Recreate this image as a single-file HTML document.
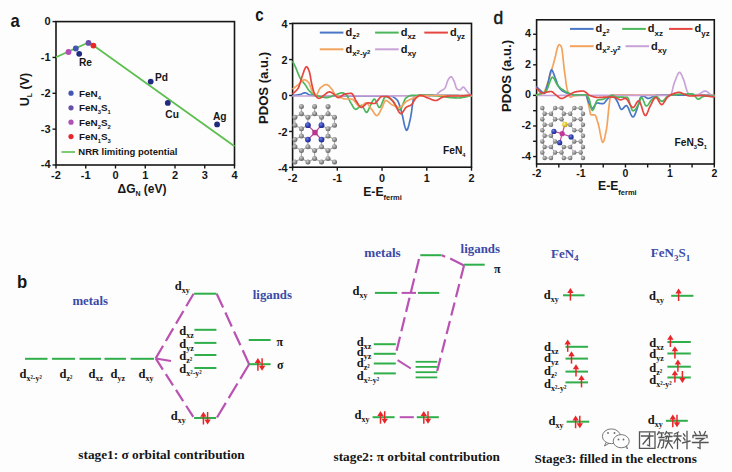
<!DOCTYPE html>
<html><head><meta charset="utf-8"><style>
html,body{margin:0;padding:0;background:#fdfdfd;width:732px;height:472px;overflow:hidden;}
svg{display:block;}
</style></head><body>
<svg width="732" height="472" viewBox="0 0 732 472">
<rect width="732" height="472" fill="#fdfdfd"/>
<rect x="56.0" y="21.6" width="178.5" height="143.4" fill="none" stroke="#161616" stroke-width="1.6"/>
<line x1="52.50" y1="21.60" x2="56.00" y2="21.60" stroke="#161616" stroke-width="1.4" />
<text x="50.50" y="25.00" font-family='"Liberation Sans", sans-serif' font-size="11" font-weight="bold" text-anchor="end" fill="#161616" >0</text>
<line x1="52.50" y1="57.45" x2="56.00" y2="57.45" stroke="#161616" stroke-width="1.4" />
<text x="50.50" y="60.85" font-family='"Liberation Sans", sans-serif' font-size="11" font-weight="bold" text-anchor="end" fill="#161616" >-1</text>
<line x1="52.50" y1="93.30" x2="56.00" y2="93.30" stroke="#161616" stroke-width="1.4" />
<text x="50.50" y="96.70" font-family='"Liberation Sans", sans-serif' font-size="11" font-weight="bold" text-anchor="end" fill="#161616" >-2</text>
<line x1="52.50" y1="129.15" x2="56.00" y2="129.15" stroke="#161616" stroke-width="1.4" />
<text x="50.50" y="132.55" font-family='"Liberation Sans", sans-serif' font-size="11" font-weight="bold" text-anchor="end" fill="#161616" >-3</text>
<line x1="52.50" y1="165.00" x2="56.00" y2="165.00" stroke="#161616" stroke-width="1.4" />
<text x="50.50" y="168.40" font-family='"Liberation Sans", sans-serif' font-size="11" font-weight="bold" text-anchor="end" fill="#161616" >-4</text>
<line x1="56.00" y1="165.00" x2="56.00" y2="168.50" stroke="#161616" stroke-width="1.4" />
<text x="56.00" y="179.00" font-family='"Liberation Sans", sans-serif' font-size="11" font-weight="bold" text-anchor="middle" fill="#161616" >-2</text>
<line x1="85.75" y1="165.00" x2="85.75" y2="168.50" stroke="#161616" stroke-width="1.4" />
<text x="85.75" y="179.00" font-family='"Liberation Sans", sans-serif' font-size="11" font-weight="bold" text-anchor="middle" fill="#161616" >-1</text>
<line x1="115.50" y1="165.00" x2="115.50" y2="168.50" stroke="#161616" stroke-width="1.4" />
<text x="115.50" y="179.00" font-family='"Liberation Sans", sans-serif' font-size="11" font-weight="bold" text-anchor="middle" fill="#161616" >0</text>
<line x1="145.25" y1="165.00" x2="145.25" y2="168.50" stroke="#161616" stroke-width="1.4" />
<text x="145.25" y="179.00" font-family='"Liberation Sans", sans-serif' font-size="11" font-weight="bold" text-anchor="middle" fill="#161616" >1</text>
<line x1="175.00" y1="165.00" x2="175.00" y2="168.50" stroke="#161616" stroke-width="1.4" />
<text x="175.00" y="179.00" font-family='"Liberation Sans", sans-serif' font-size="11" font-weight="bold" text-anchor="middle" fill="#161616" >2</text>
<line x1="204.75" y1="165.00" x2="204.75" y2="168.50" stroke="#161616" stroke-width="1.4" />
<text x="204.75" y="179.00" font-family='"Liberation Sans", sans-serif' font-size="11" font-weight="bold" text-anchor="middle" fill="#161616" >3</text>
<line x1="234.50" y1="165.00" x2="234.50" y2="168.50" stroke="#161616" stroke-width="1.4" />
<text x="234.50" y="179.00" font-family='"Liberation Sans", sans-serif' font-size="11" font-weight="bold" text-anchor="middle" fill="#161616" >4</text>
<text x="117.50" y="192.70" font-family='"Liberation Sans", sans-serif' font-size="12" font-weight="bold" text-anchor="start" fill="#161616" >ΔG<tspan font-size="7" dy="3.5">N</tspan><tspan dy="-3.5" font-size="12"> (eV)</tspan></text>
<g transform="translate(29.3,106.3) rotate(-90)">
<text x="0.00" y="0.00" font-family='"Liberation Sans", sans-serif' font-size="12.5" font-weight="bold" text-anchor="start" fill="#161616" >U<tspan font-size="7" dy="3">L</tspan><tspan dy="-3" font-size="12.5"> (V)</tspan></text>
</g>
<text x="10.50" y="27.20" font-family='"Liberation Sans", sans-serif' font-size="18.5" font-weight="bold" text-anchor="start" fill="#161616" transform="translate(10.5,27.2) scale(0.9,1) translate(-10.5,-27.2)">a</text>
<polyline points="56,57.3 89,42.2 234.5,146.3" fill="none" stroke="#5cbf4f" stroke-width="1.8"/>
<circle cx="68.50" cy="52.00" r="2.9" fill="#b04fb6" />
<circle cx="75.80" cy="48.50" r="2.9" fill="#4456b4" />
<circle cx="79.20" cy="53.80" r="2.9" fill="#1f2a80" />
<circle cx="88.50" cy="42.90" r="2.9" fill="#6650a8" />
<circle cx="93.40" cy="45.60" r="2.9" fill="#e8262b" />
<circle cx="150.70" cy="81.60" r="2.9" fill="#1f2a80" />
<circle cx="167.80" cy="102.90" r="2.9" fill="#1f2a80" />
<circle cx="217.10" cy="124.40" r="2.9" fill="#1f2a80" />
<text x="79.00" y="66.30" font-family='"Liberation Sans", sans-serif' font-size="10.2" font-weight="bold" text-anchor="start" fill="#161616" >Re</text>
<text x="155.00" y="81.30" font-family='"Liberation Sans", sans-serif' font-size="10.2" font-weight="bold" text-anchor="start" fill="#161616" >Pd</text>
<text x="165.30" y="118.40" font-family='"Liberation Sans", sans-serif' font-size="10.2" font-weight="bold" text-anchor="start" fill="#161616" >Cu</text>
<text x="213.00" y="119.60" font-family='"Liberation Sans", sans-serif' font-size="10.2" font-weight="bold" text-anchor="start" fill="#161616" >Ag</text>
<circle cx="71.00" cy="93.20" r="2.6" fill="#4456b4" />
<text x="79.00" y="96.60" font-family='"Liberation Sans", sans-serif' font-size="9.9" font-weight="bold" text-anchor="start" fill="#161616" >FeN<tspan font-size="5.8" dy="3">4</tspan></text>
<circle cx="71.00" cy="107.80" r="2.6" fill="#6650a8" />
<text x="79.00" y="111.20" font-family='"Liberation Sans", sans-serif' font-size="9.9" font-weight="bold" text-anchor="start" fill="#161616" >FeN<tspan font-size="5.8" dy="3">3</tspan><tspan dy="-3">S</tspan><tspan font-size="5.8" dy="3">1</tspan></text>
<circle cx="71.00" cy="122.20" r="2.6" fill="#b04fb6" />
<text x="79.00" y="125.60" font-family='"Liberation Sans", sans-serif' font-size="9.9" font-weight="bold" text-anchor="start" fill="#161616" >FeN<tspan font-size="5.8" dy="3">2</tspan><tspan dy="-3">S</tspan><tspan font-size="5.8" dy="3">2</tspan></text>
<circle cx="71.00" cy="136.60" r="2.6" fill="#e8262b" />
<text x="79.00" y="140.00" font-family='"Liberation Sans", sans-serif' font-size="9.9" font-weight="bold" text-anchor="start" fill="#161616" >FeN<tspan font-size="5.8" dy="3">1</tspan><tspan dy="-3">S</tspan><tspan font-size="5.8" dy="3">3</tspan></text>
<line x1="61.50" y1="152.00" x2="75.00" y2="152.00" stroke="#5cbf4f" stroke-width="1.6" />
<text x="78.30" y="154.90" font-family='"Liberation Sans", sans-serif' font-size="9.5" font-weight="bold" text-anchor="start" fill="#161616" >NRR limiting potential</text>
<rect x="292.6" y="23.4" width="178.89999999999998" height="143.79999999999998" fill="none" stroke="#161616" stroke-width="1.6"/>
<line x1="289.10" y1="23.60" x2="292.60" y2="23.60" stroke="#161616" stroke-width="1.4" />
<text x="287.50" y="28.00" font-family='"Liberation Sans", sans-serif' font-size="10.8" font-weight="bold" text-anchor="end" fill="#161616" >4</text>
<line x1="289.10" y1="59.55" x2="292.60" y2="59.55" stroke="#161616" stroke-width="1.4" />
<text x="287.50" y="63.95" font-family='"Liberation Sans", sans-serif' font-size="10.8" font-weight="bold" text-anchor="end" fill="#161616" >2</text>
<line x1="289.10" y1="95.50" x2="292.60" y2="95.50" stroke="#161616" stroke-width="1.4" />
<text x="287.50" y="99.90" font-family='"Liberation Sans", sans-serif' font-size="10.8" font-weight="bold" text-anchor="end" fill="#161616" >0</text>
<line x1="289.10" y1="131.45" x2="292.60" y2="131.45" stroke="#161616" stroke-width="1.4" />
<text x="287.50" y="135.85" font-family='"Liberation Sans", sans-serif' font-size="10.8" font-weight="bold" text-anchor="end" fill="#161616" >-2</text>
<line x1="289.10" y1="167.40" x2="292.60" y2="167.40" stroke="#161616" stroke-width="1.4" />
<text x="287.50" y="171.80" font-family='"Liberation Sans", sans-serif' font-size="10.8" font-weight="bold" text-anchor="end" fill="#161616" >-4</text>
<line x1="292.60" y1="167.20" x2="292.60" y2="170.70" stroke="#161616" stroke-width="1.4" />
<text x="292.60" y="182.00" font-family='"Liberation Sans", sans-serif' font-size="10.8" font-weight="bold" text-anchor="middle" fill="#161616" >-2</text>
<line x1="337.33" y1="167.20" x2="337.33" y2="170.70" stroke="#161616" stroke-width="1.4" />
<text x="337.33" y="182.00" font-family='"Liberation Sans", sans-serif' font-size="10.8" font-weight="bold" text-anchor="middle" fill="#161616" >-1</text>
<line x1="382.05" y1="167.20" x2="382.05" y2="170.70" stroke="#161616" stroke-width="1.4" />
<text x="382.05" y="182.00" font-family='"Liberation Sans", sans-serif' font-size="10.8" font-weight="bold" text-anchor="middle" fill="#161616" >0</text>
<line x1="426.77" y1="167.20" x2="426.77" y2="170.70" stroke="#161616" stroke-width="1.4" />
<text x="426.77" y="182.00" font-family='"Liberation Sans", sans-serif' font-size="10.8" font-weight="bold" text-anchor="middle" fill="#161616" >1</text>
<line x1="471.50" y1="167.20" x2="471.50" y2="170.70" stroke="#161616" stroke-width="1.4" />
<text x="471.50" y="182.00" font-family='"Liberation Sans", sans-serif' font-size="10.8" font-weight="bold" text-anchor="middle" fill="#161616" >2</text>
<text x="255.20" y="20.90" font-family='"Liberation Sans", sans-serif' font-size="18.5" font-weight="bold" text-anchor="start" fill="#161616" transform="translate(255.2,20.9) scale(0.82,1) translate(-255.2,-20.9)">c</text>
<g transform="translate(268.3,124) rotate(-90)">
<text x="0.00" y="0.00" font-family='"Liberation Sans", sans-serif' font-size="13.1" font-weight="bold" text-anchor="start" fill="#161616" >PDOS (a.u.)</text>
</g>
<text x="363.20" y="195.60" font-family='"Liberation Sans", sans-serif' font-size="12.2" font-weight="bold" text-anchor="start" fill="#161616" >E-E<tspan font-size="7.5" dy="4.5">fermi</tspan></text>
<text x="443.00" y="154.40" font-family='"Liberation Sans", sans-serif' font-size="10.2" font-weight="bold" text-anchor="start" fill="#161616" >FeN<tspan font-size="5.8" dy="3">4</tspan></text>
<line x1="319.80" y1="32.60" x2="343.40" y2="32.60" stroke="#4a76c6" stroke-width="2.0" />
<text x="345.40" y="36.00" font-family='"Liberation Sans", sans-serif' font-size="11" font-weight="bold" text-anchor="start" fill="#161616" >d<tspan font-size="8" dy="3.3">z</tspan><tspan font-size="6" dy="-2.5">2</tspan></text>
<line x1="375.10" y1="32.60" x2="398.70" y2="32.60" stroke="#4cb65a" stroke-width="2.0" />
<text x="400.70" y="36.00" font-family='"Liberation Sans", sans-serif' font-size="11" font-weight="bold" text-anchor="start" fill="#161616" >d<tspan font-size="8" dy="3.3">xz</tspan></text>
<line x1="424.30" y1="32.60" x2="447.90" y2="32.60" stroke="#e5463f" stroke-width="2.0" />
<text x="449.90" y="36.00" font-family='"Liberation Sans", sans-serif' font-size="11" font-weight="bold" text-anchor="start" fill="#161616" >d<tspan font-size="8" dy="3.3">yz</tspan></text>
<line x1="319.80" y1="49.30" x2="343.40" y2="49.30" stroke="#f3a35c" stroke-width="2.0" />
<text x="345.40" y="52.70" font-family='"Liberation Sans", sans-serif' font-size="11" font-weight="bold" text-anchor="start" fill="#161616" >d<tspan font-size="8" dy="3.3">x</tspan><tspan font-size="6" dy="-2.5">2</tspan><tspan font-size="8" dy="2.5">-y</tspan><tspan font-size="6" dy="-2.5">2</tspan></text>
<line x1="375.10" y1="49.30" x2="398.70" y2="49.30" stroke="#c9a3d8" stroke-width="2.0" />
<text x="400.70" y="52.70" font-family='"Liberation Sans", sans-serif' font-size="11" font-weight="bold" text-anchor="start" fill="#161616" >d<tspan font-size="8" dy="3.3">xy</tspan></text>
<path d="M293.0,95.60 L293.5,95.52 L294.0,95.45 L294.5,95.38 L295.0,95.31 L295.5,95.24 L296.0,95.17 L296.5,95.10 L297.0,95.03 L297.5,94.96 L298.0,94.88 L298.5,94.79 L299.0,94.70 L299.5,94.61 L300.0,94.50 L300.5,94.36 L301.0,94.18 L301.5,93.97 L302.0,93.74 L302.5,93.51 L303.0,93.29 L303.5,93.10 L304.0,92.94 L304.5,92.84 L305.0,92.80 L305.5,92.85 L306.0,93.01 L306.5,93.23 L307.0,93.50 L307.5,93.81 L308.0,94.12 L308.5,94.42 L309.0,94.68 L309.5,94.88 L310.0,95.00 L310.5,95.07 L311.0,95.14 L311.5,95.20 L312.0,95.27 L312.5,95.32 L313.0,95.38 L313.5,95.43 L314.0,95.48 L314.5,95.52 L315.0,95.56 L315.5,95.60 L316.0,95.63 L316.5,95.67 L317.0,95.69 L317.5,95.72 L318.0,95.74 L318.5,95.76 L319.0,95.78 L319.5,95.79 L320.0,95.80 L320.5,95.81 L321.0,95.82 L321.5,95.83 L322.0,95.83 L322.5,95.84 L323.0,95.85 L323.5,95.86 L324.0,95.86 L324.5,95.87 L325.0,95.88 L325.5,95.89 L326.0,95.89 L326.5,95.90 L327.0,95.91 L327.5,95.92 L328.0,95.92 L328.5,95.93 L329.0,95.94 L329.5,95.94 L330.0,95.95 L330.5,95.96 L331.0,95.96 L331.5,95.97 L332.0,95.97 L332.5,95.98 L333.0,95.99 L333.5,95.99 L334.0,96.00 L334.5,96.00 L335.0,96.01 L335.5,96.01 L336.0,96.02 L336.5,96.03 L337.0,96.03 L337.5,96.04 L338.0,96.04 L338.5,96.05 L339.0,96.05 L339.5,96.05 L340.0,96.06 L340.5,96.06 L341.0,96.07 L341.5,96.07 L342.0,96.08 L342.5,96.08 L343.0,96.09 L343.5,96.09 L344.0,96.09 L344.5,96.10 L345.0,96.10 L345.5,96.11 L346.0,96.11 L346.5,96.11 L347.0,96.12 L347.5,96.12 L348.0,96.12 L348.5,96.13 L349.0,96.13 L349.5,96.13 L350.0,96.14 L350.5,96.14 L351.0,96.14 L351.5,96.14 L352.0,96.15 L352.5,96.15 L353.0,96.15 L353.5,96.15 L354.0,96.16 L354.5,96.16 L355.0,96.16 L355.5,96.16 L356.0,96.17 L356.5,96.17 L357.0,96.17 L357.5,96.17 L358.0,96.17 L358.5,96.18 L359.0,96.18 L359.5,96.18 L360.0,96.18 L360.5,96.18 L361.0,96.18 L361.5,96.18 L362.0,96.19 L362.5,96.19 L363.0,96.19 L363.5,96.19 L364.0,96.19 L364.5,96.19 L365.0,96.19 L365.5,96.19 L366.0,96.19 L366.5,96.20 L367.0,96.20 L367.5,96.20 L368.0,96.20 L368.5,96.20 L369.0,96.20 L369.5,96.20 L370.0,96.20 L370.5,96.20 L371.0,96.20 L371.5,96.20 L372.0,96.20 L372.5,96.20 L373.0,96.20 L373.5,96.20 L374.0,96.20 L374.5,96.20 L375.0,96.19 L375.5,96.19 L376.0,96.18 L376.5,96.18 L377.0,96.17 L377.5,96.17 L378.0,96.16 L378.5,96.15 L379.0,96.14 L379.5,96.13 L380.0,96.13 L380.5,96.12 L381.0,96.11 L381.5,96.10 L382.0,96.09 L382.5,96.08 L383.0,96.07 L383.5,96.07 L384.0,96.06 L384.5,96.05 L385.0,96.04 L385.5,96.03 L386.0,96.03 L386.5,96.02 L387.0,96.02 L387.5,96.01 L388.0,96.01 L388.5,96.00 L389.0,96.00 L389.5,96.00 L390.0,96.00 L390.5,96.02 L391.0,96.10 L391.5,96.22 L392.1,96.38 L392.6,96.59 L393.1,96.83 L393.6,97.11 L394.1,97.43 L394.6,97.79 L395.1,98.17 L395.7,98.59 L396.2,99.04 L396.7,99.51 L397.2,100.00 L397.7,100.75 L398.3,101.86 L398.8,103.26 L399.4,104.86 L399.9,106.58 L400.5,108.32 L401.0,110.00 L401.5,111.76 L402.0,113.85 L402.6,116.17 L403.1,118.62 L403.6,121.08 L404.1,123.46 L404.6,125.64 L405.1,127.52 L405.7,128.99 L406.2,129.96 L406.7,130.30 L407.2,129.89 L407.8,128.77 L408.3,127.10 L408.9,125.03 L409.4,122.72 L410.0,120.32 L410.5,118.00 L411.0,115.19 L411.6,111.52 L412.1,107.46 L412.7,103.47 L413.2,100.01 L413.8,97.53 L414.3,96.50 L414.8,96.36 L415.3,96.23 L415.8,96.11 L416.3,96.00 L416.8,95.90 L417.4,95.80 L417.9,95.72 L418.4,95.64 L418.9,95.57 L419.4,95.50 L419.9,95.45 L420.4,95.40 L420.9,95.35 L421.4,95.31 L421.9,95.28 L422.5,95.26 L423.0,95.24 L423.5,95.22 L424.0,95.21 L424.5,95.20 L425.0,95.20 L425.5,95.20 L426.0,95.20 L426.5,95.20 L427.0,95.20 L427.5,95.20 L428.0,95.20 L428.5,95.20 L429.0,95.21 L429.5,95.21 L430.0,95.21 L430.5,95.21 L431.0,95.21 L431.5,95.21 L432.0,95.22 L432.5,95.22 L433.0,95.22 L433.5,95.22 L434.0,95.23 L434.5,95.23 L435.0,95.23 L435.5,95.24 L436.0,95.24 L436.5,95.24 L437.0,95.25 L437.5,95.25 L438.0,95.25 L438.5,95.26 L439.0,95.26 L439.5,95.27 L440.0,95.27 L440.5,95.28 L441.0,95.28 L441.5,95.28 L442.0,95.29 L442.5,95.29 L443.0,95.30 L443.5,95.30 L444.0,95.31 L444.5,95.31 L445.0,95.32 L445.5,95.32 L446.0,95.33 L446.5,95.33 L447.0,95.34 L447.5,95.34 L448.0,95.35 L448.5,95.36 L449.0,95.36 L449.5,95.37 L450.0,95.37 L450.5,95.38 L451.0,95.38 L451.5,95.39 L452.0,95.39 L452.5,95.40 L453.0,95.41 L453.5,95.41 L454.0,95.42 L454.5,95.42 L455.0,95.43 L455.5,95.44 L456.0,95.44 L456.5,95.45 L457.0,95.45 L457.5,95.46 L458.0,95.46 L458.5,95.47 L459.0,95.48 L459.5,95.48 L460.0,95.49 L460.5,95.49 L461.0,95.50 L461.5,95.50 L462.0,95.51 L462.5,95.51 L463.0,95.52 L463.5,95.53 L464.0,95.53 L464.5,95.54 L465.0,95.54 L465.5,95.55 L466.0,95.55 L466.5,95.56 L467.0,95.56 L467.5,95.57 L468.0,95.57 L468.5,95.58 L469.0,95.58 L469.5,95.59 L470.0,95.59 L470.5,95.60 L471.0,95.60" fill="none" stroke="#4a76c6" stroke-width="1.7" stroke-linejoin="round" stroke-linecap="round" />
<path d="M293.0,96.00 L293.5,96.00 L294.0,96.00 L294.5,96.00 L295.0,96.00 L295.5,96.00 L296.0,96.00 L296.5,96.00 L297.0,95.99 L297.5,95.99 L298.0,95.99 L298.5,95.99 L299.0,95.99 L299.5,95.99 L300.0,95.99 L300.5,95.99 L301.0,95.99 L301.5,95.99 L302.0,95.99 L302.5,95.99 L303.0,95.99 L303.5,95.99 L304.0,95.99 L304.5,95.99 L305.0,95.98 L305.5,95.98 L306.0,95.98 L306.5,95.98 L307.0,95.98 L307.5,95.98 L308.0,95.98 L308.5,95.98 L309.0,95.98 L309.5,95.98 L310.0,95.98 L310.5,95.98 L311.0,95.98 L311.5,95.98 L312.0,95.98 L312.5,95.98 L313.0,95.98 L313.5,95.98 L314.0,95.98 L314.5,95.98 L315.0,95.98 L315.5,95.98 L316.0,95.97 L316.5,95.97 L317.0,95.97 L317.5,95.97 L318.0,95.97 L318.5,95.97 L319.0,95.97 L319.5,95.97 L320.0,95.97 L320.5,95.97 L321.0,95.97 L321.5,95.97 L322.0,95.97 L322.5,95.97 L323.0,95.97 L323.5,95.97 L324.0,95.97 L324.5,95.97 L325.0,95.97 L325.5,95.97 L326.0,95.97 L326.5,95.97 L327.0,95.97 L327.5,95.97 L328.0,95.97 L328.5,95.97 L329.0,95.97 L329.5,95.97 L330.0,95.96 L330.5,95.96 L331.0,95.96 L331.5,95.96 L332.0,95.96 L332.5,95.96 L333.0,95.96 L333.5,95.96 L334.0,95.96 L334.5,95.96 L335.0,95.96 L335.5,95.96 L336.0,95.96 L336.5,95.96 L337.0,95.96 L337.5,95.96 L338.0,95.96 L338.5,95.96 L339.0,95.96 L339.5,95.96 L340.0,95.96 L340.5,95.96 L341.0,95.96 L341.5,95.96 L342.0,95.96 L342.5,95.96 L343.0,95.96 L343.5,95.96 L344.0,95.96 L344.5,95.96 L345.0,95.96 L345.5,95.96 L346.0,95.96 L346.5,95.95 L347.0,95.95 L347.5,95.95 L348.0,95.95 L348.5,95.95 L349.0,95.95 L349.5,95.95 L350.0,95.95 L350.5,95.95 L351.0,95.95 L351.5,95.95 L352.0,95.95 L352.5,95.95 L353.0,95.95 L353.5,95.95 L354.0,95.95 L354.5,95.95 L355.0,95.95 L355.5,95.95 L356.0,95.95 L356.5,95.95 L357.0,95.95 L357.5,95.95 L358.0,95.95 L358.5,95.95 L359.0,95.95 L359.5,95.95 L360.0,95.95 L360.5,95.95 L361.0,95.94 L361.5,95.94 L362.0,95.94 L362.5,95.94 L363.0,95.94 L363.5,95.94 L364.0,95.94 L364.5,95.94 L365.0,95.94 L365.5,95.94 L366.0,95.94 L366.5,95.94 L367.0,95.94 L367.5,95.94 L368.0,95.94 L368.5,95.94 L369.0,95.94 L369.5,95.94 L370.0,95.94 L370.5,95.94 L371.0,95.94 L371.5,95.94 L372.0,95.93 L372.5,95.93 L373.0,95.93 L373.5,95.93 L374.0,95.93 L374.5,95.93 L375.0,95.93 L375.5,95.93 L376.0,95.93 L376.5,95.93 L377.0,95.93 L377.5,95.93 L378.0,95.93 L378.5,95.93 L379.0,95.93 L379.5,95.93 L380.0,95.93 L380.5,95.92 L381.0,95.92 L381.5,95.92 L382.0,95.92 L382.5,95.92 L383.0,95.92 L383.5,95.92 L384.0,95.92 L384.5,95.92 L385.0,95.92 L385.5,95.92 L386.0,95.92 L386.5,95.92 L387.0,95.92 L387.5,95.91 L388.0,95.91 L388.5,95.91 L389.0,95.91 L389.5,95.91 L390.0,95.91 L390.5,95.91 L391.0,95.91 L391.5,95.91 L392.0,95.91 L392.5,95.91 L393.0,95.91 L393.5,95.90 L394.0,95.90 L394.5,95.90 L395.0,95.90 L395.5,95.90 L396.0,95.90 L396.5,95.90 L397.0,95.90 L397.5,95.90 L398.0,95.90 L398.5,95.89 L399.0,95.89 L399.5,95.89 L400.0,95.89 L400.5,95.89 L401.0,95.89 L401.5,95.89 L402.0,95.89 L402.5,95.89 L403.0,95.88 L403.5,95.88 L404.0,95.88 L404.5,95.88 L405.0,95.88 L405.5,95.88 L406.0,95.88 L406.5,95.88 L407.0,95.87 L407.5,95.87 L408.0,95.87 L408.5,95.87 L409.0,95.87 L409.5,95.87 L410.0,95.87 L410.5,95.87 L411.0,95.86 L411.5,95.86 L412.0,95.86 L412.5,95.86 L413.0,95.86 L413.5,95.86 L414.0,95.86 L414.5,95.85 L415.0,95.85 L415.5,95.85 L416.0,95.85 L416.5,95.85 L417.0,95.85 L417.5,95.85 L418.0,95.84 L418.5,95.84 L419.0,95.84 L419.5,95.84 L420.0,95.84 L420.5,95.84 L421.0,95.83 L421.5,95.83 L422.0,95.83 L422.5,95.83 L423.0,95.83 L423.5,95.82 L424.0,95.82 L424.5,95.82 L425.0,95.82 L425.5,95.82 L426.0,95.82 L426.5,95.81 L427.0,95.81 L427.5,95.81 L428.0,95.81 L428.5,95.81 L429.0,95.80 L429.5,95.80 L430.0,95.80 L430.5,95.79 L431.1,95.78 L431.6,95.76 L432.1,95.73 L432.7,95.70 L433.2,95.66 L433.7,95.61 L434.3,95.56 L434.8,95.50 L435.3,95.37 L435.8,95.13 L436.4,94.79 L436.9,94.37 L437.4,93.90 L437.9,93.40 L438.4,92.89 L439.0,92.38 L439.5,91.92 L440.0,91.50 L440.5,91.16 L441.0,90.85 L441.5,90.57 L442.0,90.30 L442.5,90.02 L443.0,89.72 L443.5,89.38 L444.0,88.99 L444.5,88.54 L445.0,88.00 L445.5,87.11 L446.0,85.75 L446.5,84.15 L447.0,82.51 L447.5,81.05 L448.0,80.00 L448.5,79.21 L449.0,78.45 L449.5,77.77 L450.0,77.21 L450.5,76.84 L451.0,76.70 L451.5,76.89 L452.0,77.40 L452.5,78.15 L453.0,79.06 L453.5,80.03 L454.0,81.00 L454.5,82.20 L455.0,83.77 L455.5,85.48 L456.0,87.08 L456.5,88.33 L457.0,89.00 L457.5,89.28 L458.0,89.52 L458.5,89.72 L459.0,89.87 L459.5,89.97 L460.0,90.00 L460.6,89.78 L461.1,89.22 L461.6,88.50 L462.2,87.78 L462.8,87.22 L463.3,87.00 L463.8,87.21 L464.4,87.76 L464.9,88.50 L465.5,89.29 L466.0,90.00 L466.5,90.58 L467.0,91.17 L467.5,91.76 L468.0,92.36 L468.5,92.97 L469.0,93.58 L469.5,94.18 L470.0,94.79 L470.5,95.40 L471.0,96.00" fill="none" stroke="#c9a3d8" stroke-width="1.7" stroke-linejoin="round" stroke-linecap="round" />
<path d="M293.0,61.90 L293.5,63.04 L294.1,64.18 L294.6,65.32 L295.1,66.46 L295.7,67.62 L296.2,68.80 L296.7,70.00 L297.2,71.27 L297.7,72.58 L298.2,73.89 L298.8,75.16 L299.3,76.36 L299.8,77.45 L300.3,78.40 L300.8,79.25 L301.4,80.01 L301.9,80.71 L302.4,81.36 L303.0,81.99 L303.5,82.61 L304.0,83.24 L304.6,83.89 L305.1,84.60 L305.6,85.36 L306.2,86.17 L306.7,87.00 L307.2,87.85 L307.7,88.67 L308.2,89.45 L308.8,90.17 L309.3,90.80 L309.8,91.37 L310.3,91.94 L310.9,92.48 L311.4,93.00 L311.9,93.48 L312.4,93.92 L313.0,94.31 L313.5,94.64 L314.0,94.90 L314.5,95.12 L315.1,95.32 L315.6,95.50 L316.2,95.66 L316.7,95.80 L317.3,95.94 L317.8,96.06 L318.4,96.18 L318.9,96.30 L319.4,96.41 L319.9,96.53 L320.4,96.65 L320.9,96.77 L321.4,96.88 L321.9,97.00 L322.4,97.10 L323.0,97.21 L323.5,97.30 L324.0,97.39 L324.5,97.46 L325.0,97.52 L325.5,97.56 L326.0,97.59 L326.5,97.60 L327.0,97.58 L327.5,97.53 L328.1,97.45 L328.6,97.34 L329.1,97.20 L329.6,97.05 L330.2,96.87 L330.7,96.69 L331.2,96.49 L331.7,96.28 L332.3,96.07 L332.8,95.86 L333.3,95.65 L333.8,95.45 L334.4,95.25 L334.9,95.07 L335.4,94.90 L335.9,94.73 L336.5,94.54 L337.0,94.33 L337.5,94.12 L338.1,93.90 L338.6,93.69 L339.1,93.49 L339.6,93.30 L340.2,93.14 L340.7,93.00 L341.2,92.89 L341.8,92.82 L342.3,92.80 L342.8,92.85 L343.3,92.97 L343.8,93.17 L344.4,93.44 L344.9,93.75 L345.4,94.11 L345.9,94.49 L346.4,94.90 L346.9,95.48 L347.5,96.33 L348.0,97.35 L348.5,98.47 L349.0,99.60 L349.6,100.67 L350.1,101.60 L350.6,102.45 L351.1,103.36 L351.7,104.29 L352.2,105.23 L352.7,106.13 L353.2,106.98 L353.7,107.74 L354.2,108.38 L354.8,108.87 L355.3,109.19 L355.8,109.30 L356.3,109.21 L356.8,108.96 L357.4,108.59 L357.9,108.13 L358.4,107.62 L358.9,107.08 L359.4,106.57 L359.9,106.11 L360.5,105.74 L361.0,105.49 L361.5,105.40 L362.0,105.60 L362.5,106.13 L363.0,106.91 L363.5,107.86 L364.1,108.90 L364.6,109.94 L365.1,110.89 L365.6,111.67 L366.1,112.20 L366.6,112.40 L367.1,112.13 L367.7,111.39 L368.2,110.33 L368.8,109.07 L369.3,107.74 L369.9,106.47 L370.4,105.40 L371.0,104.35 L371.5,103.17 L372.1,101.98 L372.6,100.87 L373.2,99.96 L373.7,99.33 L374.3,99.10 L374.8,99.33 L375.3,99.96 L375.8,100.89 L376.3,102.02 L376.9,103.25 L377.4,104.48 L377.9,105.61 L378.4,106.54 L378.9,107.17 L379.4,107.40 L379.9,107.19 L380.4,106.59 L381.0,105.70 L381.5,104.57 L382.0,103.30 L382.5,101.95 L383.1,100.60 L383.6,99.33 L384.1,98.20 L384.6,97.31 L385.2,96.71 L385.7,96.50 L386.2,96.54 L386.8,96.67 L387.3,96.87 L387.8,97.13 L388.4,97.44 L388.9,97.80 L389.4,98.20 L390.0,98.62 L390.5,99.06 L391.0,99.51 L391.6,99.96 L392.1,100.40 L392.6,100.88 L393.1,101.48 L393.6,102.18 L394.1,102.95 L394.6,103.78 L395.1,104.63 L395.6,105.49 L396.2,106.34 L396.7,107.15 L397.2,107.89 L397.7,108.56 L398.2,109.11 L398.7,109.53 L399.2,109.80 L399.7,109.90 L400.2,109.69 L400.8,109.10 L401.3,108.21 L401.8,107.07 L402.4,105.77 L402.9,104.37 L403.4,102.95 L404.0,101.56 L404.5,100.28 L405.0,99.18 L405.6,98.33 L406.1,97.80 L406.6,97.46 L407.2,97.14 L407.7,96.83 L408.2,96.55 L408.7,96.29 L409.2,96.05 L409.8,95.84 L410.3,95.66 L410.8,95.51 L411.3,95.40 L411.9,95.33 L412.4,95.30 L412.9,95.29 L413.4,95.28 L413.9,95.28 L414.4,95.27 L414.9,95.26 L415.4,95.26 L415.9,95.25 L416.4,95.24 L416.9,95.24 L417.4,95.23 L417.9,95.23 L418.4,95.22 L419.0,95.22 L419.5,95.22 L420.0,95.21 L420.5,95.21 L421.0,95.21 L421.5,95.21 L422.0,95.20 L422.5,95.20 L423.0,95.20 L423.5,95.20 L424.0,95.20 L424.5,95.20 L425.0,95.20 L425.5,95.20 L426.0,95.21 L426.5,95.22 L427.0,95.23 L427.5,95.24 L428.0,95.26 L428.5,95.28 L429.0,95.30 L429.5,95.33 L430.0,95.36 L430.5,95.39 L431.0,95.42 L431.5,95.46 L432.0,95.49 L432.5,95.53 L433.0,95.57 L433.5,95.61 L434.0,95.65 L434.5,95.70 L435.0,95.74 L435.5,95.79 L436.0,95.83 L436.5,95.88 L437.0,95.92 L437.5,95.97 L438.0,96.02 L438.5,96.06 L439.0,96.11 L439.5,96.15 L440.0,96.20 L440.5,96.25 L441.0,96.30 L441.5,96.36 L442.0,96.42 L442.5,96.49 L443.0,96.56 L443.5,96.63 L444.0,96.71 L444.5,96.78 L445.0,96.86 L445.5,96.93 L446.0,97.01 L446.5,97.08 L447.0,97.15 L447.5,97.22 L448.0,97.29 L448.5,97.35 L449.0,97.40 L449.5,97.46 L450.0,97.50 L450.5,97.54 L451.0,97.59 L451.5,97.63 L452.0,97.67 L452.5,97.71 L453.0,97.76 L453.5,97.80 L454.0,97.83 L454.5,97.87 L455.0,97.90 L455.5,97.93 L456.0,97.95 L456.5,97.97 L457.0,97.99 L457.5,98.00 L458.0,98.00 L458.5,97.99 L459.0,97.97 L459.5,97.93 L460.0,97.88 L460.5,97.81 L461.0,97.74 L461.5,97.66 L462.0,97.57 L462.5,97.48 L463.0,97.39 L463.5,97.29 L464.0,97.19 L464.5,97.09 L465.0,97.00 L465.5,96.90 L466.0,96.80 L466.5,96.68 L467.0,96.56 L467.5,96.43 L468.0,96.30 L468.5,96.17 L469.0,96.03 L469.5,95.89 L470.0,95.76 L470.5,95.63 L471.0,95.50" fill="none" stroke="#4cb65a" stroke-width="1.7" stroke-linejoin="round" stroke-linecap="round" />
<path d="M293.0,88.70 L293.5,88.29 L294.1,87.88 L294.6,87.47 L295.1,87.06 L295.6,86.65 L296.2,86.24 L296.7,85.84 L297.2,85.42 L297.8,85.01 L298.3,84.60 L298.8,84.17 L299.3,83.69 L299.8,83.18 L300.3,82.65 L300.8,82.12 L301.4,81.61 L301.9,81.12 L302.4,80.69 L302.9,80.33 L303.4,80.05 L303.9,79.86 L304.4,79.80 L304.9,79.86 L305.4,80.02 L306.0,80.28 L306.5,80.62 L307.0,81.02 L307.6,81.48 L308.1,81.98 L308.6,82.50 L309.1,83.24 L309.6,84.35 L310.1,85.71 L310.6,87.20 L311.2,88.71 L311.7,90.10 L312.2,91.27 L312.7,92.10 L313.3,92.78 L313.8,93.43 L314.4,94.01 L315.0,94.48 L315.5,94.79 L316.1,94.90 L316.6,94.65 L317.2,93.99 L317.7,93.03 L318.2,91.90 L318.7,90.71 L319.2,89.58 L319.8,88.64 L320.3,88.00 L320.8,87.56 L321.3,87.14 L321.9,86.73 L322.4,86.34 L322.9,85.97 L323.4,85.64 L323.9,85.35 L324.4,85.09 L324.9,84.88 L325.5,84.73 L326.0,84.63 L326.5,84.60 L327.0,84.66 L327.5,84.85 L328.0,85.13 L328.5,85.51 L329.0,85.95 L329.5,86.46 L330.0,87.02 L330.5,87.60 L331.0,88.20 L331.5,88.81 L332.0,89.40 L332.6,90.20 L333.1,91.21 L333.7,92.31 L334.3,93.37 L334.8,94.27 L335.4,94.90 L335.9,95.27 L336.4,95.60 L336.9,95.90 L337.4,96.16 L337.9,96.40 L338.4,96.62 L338.9,96.83 L339.4,97.02 L339.9,97.21 L340.4,97.40 L340.9,97.60 L341.4,97.82 L341.9,98.05 L342.4,98.28 L342.9,98.50 L343.5,98.70 L344.0,98.86 L344.5,98.96 L345.0,99.00 L345.5,99.00 L346.1,99.00 L346.6,99.00 L347.1,99.00 L347.7,99.00 L348.2,99.00 L348.7,99.00 L349.3,99.00 L349.8,99.00 L350.3,99.00 L350.9,99.00 L351.4,99.00 L351.9,99.08 L352.4,99.29 L353.0,99.63 L353.5,100.08 L354.0,100.61 L354.5,101.20 L355.1,101.84 L355.6,102.51 L356.1,103.19 L356.6,103.86 L357.2,104.50 L357.7,105.09 L358.2,105.62 L358.7,106.07 L359.3,106.41 L359.8,106.62 L360.3,106.70 L360.8,106.61 L361.3,106.37 L361.9,106.01 L362.4,105.56 L362.9,105.06 L363.4,104.54 L363.9,104.04 L364.4,103.59 L365.0,103.23 L365.5,102.99 L366.0,102.90 L366.5,103.00 L367.0,103.28 L367.6,103.71 L368.1,104.26 L368.6,104.91 L369.1,105.63 L369.6,106.39 L370.1,107.16 L370.7,107.93 L371.2,108.65 L371.7,109.30 L372.2,109.96 L372.7,110.72 L373.2,111.54 L373.7,112.38 L374.2,113.20 L374.8,113.96 L375.3,114.62 L375.8,115.14 L376.3,115.48 L376.8,115.60 L377.3,115.47 L377.8,115.09 L378.3,114.51 L378.8,113.77 L379.4,112.90 L379.9,111.94 L380.4,110.93 L380.9,109.91 L381.4,108.92 L381.9,108.00 L382.4,106.89 L383.0,105.54 L383.5,104.09 L384.1,102.71 L384.6,101.53 L385.2,100.71 L385.7,100.40 L386.2,100.47 L386.8,100.66 L387.3,100.95 L387.8,101.32 L388.4,101.76 L388.9,102.23 L389.4,102.73 L390.0,103.22 L390.5,103.70 L391.0,104.13 L391.6,104.51 L392.1,104.80 L392.6,105.04 L393.1,105.28 L393.6,105.52 L394.1,105.76 L394.6,105.99 L395.1,106.22 L395.6,106.44 L396.2,106.64 L396.7,106.82 L397.2,106.99 L397.7,107.13 L398.2,107.24 L398.7,107.33 L399.2,107.38 L399.7,107.40 L400.2,107.31 L400.8,107.06 L401.3,106.68 L401.8,106.19 L402.4,105.63 L402.9,105.00 L403.4,104.35 L404.0,103.70 L404.5,103.07 L405.0,102.50 L405.6,102.00 L406.1,101.60 L406.6,101.29 L407.1,101.00 L407.6,100.73 L408.1,100.48 L408.6,100.24 L409.2,100.00 L409.7,99.77 L410.2,99.55 L410.7,99.33 L411.2,99.10 L411.7,98.86 L412.2,98.61 L412.8,98.36 L413.3,98.10 L413.8,97.85 L414.4,97.61 L414.9,97.37 L415.4,97.16 L415.9,96.95 L416.4,96.78 L417.0,96.62 L417.5,96.50 L418.0,96.40 L418.5,96.30 L419.0,96.20 L419.5,96.10 L420.0,96.01 L420.5,95.93 L421.0,95.85 L421.5,95.77 L422.0,95.70 L422.5,95.65 L423.0,95.60 L423.5,95.55 L424.0,95.52 L424.5,95.51 L425.0,95.50 L425.5,95.50 L426.0,95.50 L426.5,95.50 L427.0,95.50 L427.5,95.50 L428.0,95.50 L428.5,95.50 L429.0,95.50 L429.5,95.50 L430.0,95.50 L430.5,95.50 L431.0,95.50 L431.5,95.50 L432.0,95.50 L432.5,95.50 L433.0,95.50 L433.5,95.50 L434.0,95.50 L434.5,95.50 L435.0,95.50 L435.5,95.50 L436.0,95.50 L436.5,95.50 L437.0,95.50 L437.5,95.50 L438.0,95.50 L438.5,95.50 L439.0,95.50 L439.5,95.50 L440.0,95.50 L440.5,95.50 L441.0,95.50 L441.5,95.50 L442.0,95.50 L442.5,95.50 L443.0,95.50 L443.5,95.50 L444.0,95.50 L444.5,95.50 L445.0,95.50 L445.5,95.50 L446.0,95.50 L446.5,95.50 L447.0,95.50 L447.5,95.50 L448.0,95.50 L448.5,95.50 L449.0,95.50 L449.5,95.50 L450.0,95.50 L450.5,95.50 L451.0,95.50 L451.5,95.50 L452.0,95.50 L452.5,95.50 L453.0,95.50 L453.5,95.50 L454.0,95.50 L454.5,95.50 L455.0,95.50 L455.5,95.50 L456.0,95.50 L456.5,95.50 L457.0,95.50 L457.5,95.50 L458.0,95.50 L458.5,95.50 L459.0,95.50 L459.5,95.50 L460.0,95.50 L460.5,95.50 L461.0,95.50 L461.5,95.50 L462.0,95.50 L462.5,95.50 L463.0,95.50 L463.5,95.50 L464.0,95.50 L464.5,95.50 L465.0,95.50 L465.5,95.50 L466.0,95.50 L466.5,95.50 L467.0,95.50 L467.5,95.50 L468.0,95.50 L468.5,95.50 L469.0,95.50 L469.5,95.50 L470.0,95.50 L470.5,95.50 L471.0,95.50" fill="none" stroke="#f3a35c" stroke-width="1.7" stroke-linejoin="round" stroke-linecap="round" />
<path d="M293.0,93.50 L293.5,92.98 L294.1,92.49 L294.6,92.03 L295.1,91.57 L295.6,91.11 L296.2,90.61 L296.7,90.07 L297.2,89.47 L297.8,88.78 L298.3,88.00 L298.8,86.99 L299.3,85.64 L299.8,84.04 L300.4,82.29 L300.9,80.47 L301.4,78.69 L301.9,77.04 L302.4,75.60 L302.9,74.23 L303.4,72.75 L303.9,71.27 L304.4,69.85 L305.0,68.61 L305.5,67.60 L306.0,66.94 L306.5,66.70 L307.1,66.97 L307.6,67.70 L308.2,68.77 L308.7,70.08 L309.3,71.50 L309.8,73.49 L310.4,76.36 L310.9,79.62 L311.5,82.76 L312.0,85.30 L312.6,87.48 L313.1,89.59 L313.7,91.56 L314.3,93.28 L314.8,94.65 L315.4,95.60 L315.9,96.20 L316.4,96.76 L316.9,97.27 L317.4,97.69 L317.9,98.02 L318.4,98.23 L318.9,98.30 L319.4,98.25 L319.9,98.10 L320.4,97.86 L320.9,97.57 L321.4,97.22 L321.9,96.83 L322.4,96.43 L322.9,96.01 L323.4,95.61 L323.9,95.24 L324.4,94.90 L324.9,94.54 L325.5,94.12 L326.0,93.68 L326.5,93.24 L327.1,92.82 L327.6,92.46 L328.1,92.16 L328.7,91.97 L329.2,91.90 L329.7,91.95 L330.3,92.08 L330.8,92.28 L331.3,92.54 L331.9,92.84 L332.4,93.17 L332.9,93.52 L333.5,93.86 L334.0,94.20 L334.5,94.59 L335.0,95.08 L335.5,95.64 L336.1,96.21 L336.6,96.74 L337.1,97.19 L337.6,97.49 L338.1,97.60 L338.6,97.55 L339.2,97.39 L339.7,97.16 L340.2,96.86 L340.8,96.51 L341.3,96.13 L341.8,95.74 L342.3,95.35 L342.9,94.97 L343.4,94.64 L343.9,94.35 L344.5,94.13 L345.0,94.00 L345.5,93.92 L346.1,93.84 L346.6,93.76 L347.1,93.70 L347.7,93.63 L348.2,93.57 L348.7,93.52 L349.3,93.48 L349.8,93.45 L350.3,93.42 L350.9,93.41 L351.4,93.40 L351.9,93.57 L352.4,94.03 L352.9,94.74 L353.4,95.63 L353.9,96.64 L354.5,97.72 L355.0,98.82 L355.5,99.87 L356.0,100.81 L356.5,101.60 L357.0,102.31 L357.5,103.07 L358.0,103.84 L358.5,104.61 L359.0,105.34 L359.5,106.00 L360.0,106.57 L360.5,107.01 L361.0,107.30 L361.5,107.40 L362.0,107.31 L362.6,107.07 L363.1,106.70 L363.6,106.23 L364.2,105.71 L364.7,105.15 L365.2,104.59 L365.8,104.07 L366.3,103.60 L366.8,103.23 L367.4,102.99 L367.9,102.90 L368.4,102.91 L369.0,102.94 L369.5,102.99 L370.0,103.06 L370.6,103.13 L371.1,103.20 L371.6,103.27 L372.2,103.34 L372.7,103.41 L373.2,103.46 L373.8,103.49 L374.3,103.50 L374.8,103.41 L375.3,103.16 L375.8,102.77 L376.3,102.27 L376.8,101.69 L377.3,101.04 L377.8,100.35 L378.4,99.65 L378.9,98.96 L379.4,98.31 L379.9,97.73 L380.4,97.23 L380.9,96.84 L381.4,96.59 L381.9,96.50 L382.4,96.50 L382.9,96.50 L383.4,96.50 L383.9,96.50 L384.4,96.50 L385.0,96.50 L385.5,96.50 L386.0,96.50 L386.5,96.50 L387.0,96.50 L387.5,96.56 L388.1,96.72 L388.6,96.98 L389.1,97.33 L389.6,97.74 L390.1,98.22 L390.7,98.74 L391.2,99.29 L391.7,99.87 L392.2,100.45 L392.8,101.03 L393.3,101.60 L393.8,102.23 L394.3,103.00 L394.8,103.90 L395.4,104.89 L395.9,105.94 L396.4,107.03 L396.9,108.13 L397.4,109.20 L397.9,110.22 L398.4,111.17 L398.9,112.00 L399.5,112.70 L400.0,113.24 L400.5,113.58 L401.0,113.70 L401.5,113.56 L402.0,113.16 L402.5,112.57 L403.0,111.84 L403.6,111.01 L404.1,110.15 L404.6,109.30 L405.1,108.53 L405.6,107.87 L406.1,107.40 L406.6,107.06 L407.1,106.78 L407.6,106.54 L408.1,106.32 L408.6,106.12 L409.2,105.91 L409.7,105.69 L410.2,105.44 L410.7,105.15 L411.2,104.80 L411.7,104.34 L412.2,103.73 L412.7,103.02 L413.2,102.22 L413.7,101.38 L414.2,100.54 L414.7,99.72 L415.2,98.97 L415.7,98.32 L416.2,97.80 L416.7,97.31 L417.3,96.82 L417.8,96.35 L418.4,95.93 L418.9,95.60 L419.5,95.38 L420.0,95.30 L420.5,95.32 L421.0,95.38 L421.5,95.47 L422.0,95.60 L422.5,95.75 L423.0,95.92 L423.5,96.11 L424.0,96.32 L424.5,96.54 L425.0,96.76 L425.5,96.98 L426.0,97.21 L426.5,97.42 L427.0,97.63 L427.5,97.82 L428.0,98.00 L428.5,98.18 L429.0,98.38 L429.5,98.59 L430.1,98.80 L430.6,99.03 L431.1,99.25 L431.6,99.46 L432.1,99.67 L432.6,99.86 L433.1,100.04 L433.6,100.19 L434.2,100.32 L434.7,100.42 L435.2,100.48 L435.7,100.50 L436.2,100.46 L436.7,100.33 L437.3,100.14 L437.8,99.90 L438.3,99.61 L438.8,99.29 L439.4,98.95 L439.9,98.60 L440.4,98.26 L440.9,97.93 L441.4,97.63 L442.0,97.36 L442.5,97.15 L443.0,97.00 L443.5,96.89 L444.0,96.78 L444.5,96.68 L445.0,96.58 L445.5,96.48 L446.0,96.39 L446.5,96.31 L447.0,96.23 L447.5,96.17 L448.0,96.11 L448.5,96.06 L449.0,96.03 L449.5,96.01 L450.0,96.00 L450.5,96.00 L451.0,96.00 L451.5,96.00 L452.0,96.00 L452.5,96.00 L453.0,96.00 L453.5,96.00 L454.0,96.00 L454.5,96.00 L455.0,96.00 L455.5,96.00 L456.0,96.00 L456.5,96.00 L457.0,96.00 L457.5,96.00 L458.0,96.00 L458.5,96.00 L459.0,96.00 L459.5,96.00 L460.0,96.00 L460.5,96.00 L461.0,95.98 L461.5,95.97 L462.0,95.94 L462.5,95.91 L463.0,95.87 L463.5,95.83 L464.0,95.78 L464.5,95.73 L465.0,95.68 L465.5,95.62 L466.0,95.57 L466.5,95.51 L467.0,95.45 L467.5,95.39 L468.0,95.33 L468.5,95.27 L469.0,95.21 L469.5,95.15 L470.0,95.10 L470.5,95.05 L471.0,95.00" fill="none" stroke="#e5463f" stroke-width="1.7" stroke-linejoin="round" stroke-linecap="round" />
<rect x="536.6" y="19.8" width="177.69999999999993" height="144.2" fill="none" stroke="#161616" stroke-width="1.6"/>
<line x1="533.10" y1="156.56" x2="536.60" y2="156.56" stroke="#161616" stroke-width="1.4" />
<text x="531.00" y="159.56" font-family='"Liberation Sans", sans-serif' font-size="10.8" font-weight="bold" text-anchor="end" fill="#161616" >-4</text>
<line x1="533.10" y1="141.27" x2="536.60" y2="141.27" stroke="#161616" stroke-width="1.4" />
<line x1="533.10" y1="125.98" x2="536.60" y2="125.98" stroke="#161616" stroke-width="1.4" />
<text x="531.00" y="128.98" font-family='"Liberation Sans", sans-serif' font-size="10.8" font-weight="bold" text-anchor="end" fill="#161616" >-2</text>
<line x1="533.10" y1="110.69" x2="536.60" y2="110.69" stroke="#161616" stroke-width="1.4" />
<line x1="533.10" y1="95.40" x2="536.60" y2="95.40" stroke="#161616" stroke-width="1.4" />
<text x="531.00" y="98.40" font-family='"Liberation Sans", sans-serif' font-size="10.8" font-weight="bold" text-anchor="end" fill="#161616" >0</text>
<line x1="533.10" y1="80.11" x2="536.60" y2="80.11" stroke="#161616" stroke-width="1.4" />
<line x1="533.10" y1="64.82" x2="536.60" y2="64.82" stroke="#161616" stroke-width="1.4" />
<text x="531.00" y="67.82" font-family='"Liberation Sans", sans-serif' font-size="10.8" font-weight="bold" text-anchor="end" fill="#161616" >2</text>
<line x1="533.10" y1="49.53" x2="536.60" y2="49.53" stroke="#161616" stroke-width="1.4" />
<line x1="533.10" y1="34.24" x2="536.60" y2="34.24" stroke="#161616" stroke-width="1.4" />
<text x="531.00" y="37.24" font-family='"Liberation Sans", sans-serif' font-size="10.8" font-weight="bold" text-anchor="end" fill="#161616" >4</text>
<line x1="536.60" y1="164.00" x2="536.60" y2="167.50" stroke="#161616" stroke-width="1.4" />
<text x="536.60" y="176.80" font-family='"Liberation Sans", sans-serif' font-size="10.5" font-weight="bold" text-anchor="middle" fill="#161616" >-2</text>
<line x1="558.81" y1="164.00" x2="558.81" y2="167.50" stroke="#161616" stroke-width="1.4" />
<line x1="581.02" y1="164.00" x2="581.02" y2="167.50" stroke="#161616" stroke-width="1.4" />
<text x="581.02" y="176.80" font-family='"Liberation Sans", sans-serif' font-size="10.5" font-weight="bold" text-anchor="middle" fill="#161616" >-1</text>
<line x1="603.24" y1="164.00" x2="603.24" y2="167.50" stroke="#161616" stroke-width="1.4" />
<line x1="625.45" y1="164.00" x2="625.45" y2="167.50" stroke="#161616" stroke-width="1.4" />
<text x="625.45" y="176.80" font-family='"Liberation Sans", sans-serif' font-size="10.5" font-weight="bold" text-anchor="middle" fill="#161616" >0</text>
<line x1="647.66" y1="164.00" x2="647.66" y2="167.50" stroke="#161616" stroke-width="1.4" />
<line x1="669.88" y1="164.00" x2="669.88" y2="167.50" stroke="#161616" stroke-width="1.4" />
<text x="669.88" y="176.80" font-family='"Liberation Sans", sans-serif' font-size="10.5" font-weight="bold" text-anchor="middle" fill="#161616" >1</text>
<line x1="692.09" y1="164.00" x2="692.09" y2="167.50" stroke="#161616" stroke-width="1.4" />
<line x1="714.30" y1="164.00" x2="714.30" y2="167.50" stroke="#161616" stroke-width="1.4" />
<text x="714.30" y="176.80" font-family='"Liberation Sans", sans-serif' font-size="10.5" font-weight="bold" text-anchor="middle" fill="#161616" >2</text>
<text x="493.50" y="23.60" font-family='"Liberation Sans", sans-serif' font-size="19" font-weight="normal" text-anchor="start" fill="#161616" transform="translate(493.5,23.6) scale(0.92,1) translate(-493.5,-23.6)" stroke="#161616" stroke-width="0.5">d</text>
<g transform="translate(510.5,112) rotate(-90)">
<text x="0.00" y="0.00" font-family='"Liberation Sans", sans-serif' font-size="13.1" font-weight="bold" text-anchor="start" fill="#161616" >PDOS (a.u.)</text>
</g>
<text x="598.00" y="190.00" font-family='"Liberation Sans", sans-serif' font-size="12.2" font-weight="bold" text-anchor="start" fill="#161616" >E-E<tspan font-size="7.5" dy="4.5">fermi</tspan></text>
<text x="674.50" y="146.20" font-family='"Liberation Sans", sans-serif' font-size="10.2" font-weight="bold" text-anchor="start" fill="#161616" >FeN<tspan font-size="5.8" dy="3">3</tspan><tspan dy="-3">S</tspan><tspan font-size="5.8" dy="3">1</tspan></text>
<line x1="570.00" y1="28.90" x2="593.60" y2="28.90" stroke="#4a76c6" stroke-width="2.0" />
<text x="595.60" y="32.30" font-family='"Liberation Sans", sans-serif' font-size="11" font-weight="bold" text-anchor="start" fill="#161616" >d<tspan font-size="8" dy="3.3">z</tspan><tspan font-size="6" dy="-2.5">2</tspan></text>
<line x1="622.20" y1="28.90" x2="645.80" y2="28.90" stroke="#4cb65a" stroke-width="2.0" />
<text x="647.80" y="32.30" font-family='"Liberation Sans", sans-serif' font-size="11" font-weight="bold" text-anchor="start" fill="#161616" >d<tspan font-size="8" dy="3.3">xz</tspan></text>
<line x1="669.00" y1="28.90" x2="692.60" y2="28.90" stroke="#e5463f" stroke-width="2.0" />
<text x="694.60" y="32.30" font-family='"Liberation Sans", sans-serif' font-size="11" font-weight="bold" text-anchor="start" fill="#161616" >d<tspan font-size="8" dy="3.3">yz</tspan></text>
<line x1="570.00" y1="46.20" x2="593.60" y2="46.20" stroke="#f3a35c" stroke-width="2.0" />
<text x="595.60" y="49.60" font-family='"Liberation Sans", sans-serif' font-size="11" font-weight="bold" text-anchor="start" fill="#161616" >d<tspan font-size="8" dy="3.3">x</tspan><tspan font-size="6" dy="-2.5">2</tspan><tspan font-size="8" dy="2.5">-y</tspan><tspan font-size="6" dy="-2.5">2</tspan></text>
<line x1="625.50" y1="46.20" x2="649.10" y2="46.20" stroke="#c9a3d8" stroke-width="2.0" />
<text x="651.10" y="49.60" font-family='"Liberation Sans", sans-serif' font-size="11" font-weight="bold" text-anchor="start" fill="#161616" >d<tspan font-size="8" dy="3.3">xy</tspan></text>
<path d="M536.7,95.00 L537.2,94.88 L537.7,94.78 L538.2,94.68 L538.8,94.59 L539.3,94.50 L539.8,94.41 L540.3,94.30 L540.8,94.18 L541.4,94.05 L541.9,93.89 L542.4,93.71 L542.9,93.50 L543.4,93.10 L544.0,92.40 L544.5,91.45 L545.0,90.28 L545.6,88.93 L546.1,87.45 L546.7,85.87 L547.2,84.23 L547.7,82.58 L548.3,80.96 L548.8,79.40 L549.3,77.87 L549.8,76.24 L550.4,74.52 L550.9,72.73 L551.4,70.89 L551.9,69.03 L552.4,67.16 L553.0,65.30 L553.5,63.47 L554.0,61.70 L554.5,59.81 L555.0,57.70 L555.6,55.45 L556.1,53.18 L556.6,50.98 L557.1,48.95 L557.6,47.20 L558.2,45.82 L558.7,44.92 L559.2,44.60 L559.8,44.78 L560.3,45.26 L560.9,45.99 L561.4,46.90 L561.9,48.77 L562.4,52.23 L562.9,56.72 L563.4,61.65 L563.9,66.47 L564.4,70.60 L565.0,74.94 L565.6,79.36 L566.1,83.54 L566.7,87.13 L567.3,89.80 L567.8,91.60 L568.3,93.32 L568.8,94.85 L569.3,96.08 L569.8,96.90 L570.3,97.20 L570.8,97.12 L571.4,96.93 L571.9,96.66 L572.4,96.35 L572.9,96.06 L573.5,95.83 L574.0,95.70 L574.5,95.64 L575.0,95.58 L575.5,95.53 L576.1,95.48 L576.6,95.43 L577.1,95.38 L577.6,95.34 L578.1,95.30 L578.6,95.26 L579.1,95.22 L579.6,95.19 L580.2,95.16 L580.7,95.13 L581.2,95.11 L581.7,95.08 L582.2,95.06 L582.7,95.05 L583.2,95.03 L583.7,95.02 L584.3,95.01 L584.8,95.01 L585.3,95.00 L585.8,95.00 L586.4,95.70 L587.0,97.52 L587.5,100.00 L588.1,102.71 L588.7,105.20 L589.3,107.96 L589.9,111.16 L590.4,113.80 L591.0,114.90 L591.5,114.90 L592.1,114.90 L592.6,114.90 L593.1,114.90 L593.6,114.90 L594.2,114.90 L594.7,114.90 L595.2,115.23 L595.8,116.13 L596.3,117.46 L596.8,119.09 L597.3,120.90 L597.9,122.75 L598.4,124.50 L598.9,126.59 L599.5,129.23 L600.0,132.16 L600.6,135.13 L601.1,137.88 L601.7,140.17 L602.2,141.72 L602.8,142.30 L603.3,141.90 L603.9,140.78 L604.4,139.08 L604.9,136.93 L605.4,134.44 L606.0,131.76 L606.5,129.00 L607.0,125.65 L607.5,121.15 L608.0,116.03 L608.5,110.83 L609.0,106.07 L609.5,102.30 L610.0,98.98 L610.5,96.05 L611.0,94.80 L611.5,94.80 L612.0,94.80 L612.5,94.80 L613.0,94.80 L613.5,94.80 L614.0,94.81 L614.5,94.81 L615.0,94.81 L615.5,94.81 L616.0,94.82 L616.5,94.82 L617.0,94.82 L617.5,94.83 L618.0,94.83 L618.5,94.83 L619.0,94.84 L619.5,94.84 L620.0,94.85 L620.5,94.85 L621.0,94.85 L621.5,94.86 L622.0,94.86 L622.5,94.87 L623.0,94.87 L623.5,94.88 L624.0,94.88 L624.5,94.89 L625.0,94.89 L625.5,94.90 L626.0,94.91 L626.5,94.91 L627.0,94.92 L627.5,94.92 L628.0,94.93 L628.5,94.93 L629.0,94.94 L629.5,94.94 L630.0,94.95 L630.5,94.95 L631.0,94.95 L631.5,94.96 L632.0,94.96 L632.5,94.97 L633.0,94.97 L633.5,94.97 L634.0,94.98 L634.5,94.98 L635.0,94.98 L635.5,94.99 L636.0,94.99 L636.5,94.99 L637.0,94.99 L637.5,95.00 L638.0,95.00 L638.5,95.00 L639.0,95.00 L639.5,95.00 L640.0,95.00 L640.5,95.00 L641.0,95.00 L641.5,95.00 L642.0,95.00 L642.5,95.00 L643.0,95.00 L643.5,95.00 L644.0,95.00 L644.5,95.00 L645.0,95.00 L645.5,95.00 L646.0,95.00 L646.5,95.00 L647.0,95.00 L647.5,95.00 L648.0,95.00 L648.5,95.00 L649.0,95.00 L649.5,95.00 L650.0,95.00 L650.5,95.00 L651.0,95.00 L651.5,95.00 L652.0,95.00 L652.5,95.00 L653.0,95.00 L653.5,95.00 L654.0,95.00 L654.5,95.00 L655.0,95.00 L655.5,95.00 L656.0,95.00 L656.5,95.00 L657.0,95.00 L657.5,95.00 L658.0,95.00 L658.5,95.00 L659.0,95.00 L659.5,95.00 L660.0,95.00 L660.5,95.00 L661.0,95.00 L661.5,95.00 L662.0,95.00 L662.5,95.00 L663.0,95.00 L663.5,95.00 L664.0,95.00 L664.5,95.00 L665.0,95.00 L665.5,95.00 L666.0,95.00 L666.5,95.00 L667.0,95.00 L667.5,95.00 L668.0,95.00 L668.5,95.00 L669.0,95.00 L669.5,95.00 L670.0,95.00 L670.5,95.00 L671.0,95.00 L671.5,95.00 L672.0,95.00 L672.5,95.00 L673.0,95.00 L673.5,95.00 L674.0,95.00 L674.5,95.00 L675.0,95.00 L675.5,95.00 L676.0,95.00 L676.5,95.00 L677.0,95.00 L677.5,95.00 L678.0,95.00 L678.5,95.00 L679.0,95.00 L679.5,95.00 L680.0,95.00 L680.5,95.00 L681.0,95.00 L681.5,95.00 L682.0,95.00 L682.5,95.00 L683.0,95.00 L683.5,95.00 L684.0,95.00 L684.5,95.00 L685.0,95.00 L685.5,95.00 L686.0,95.00 L686.5,95.00 L687.0,95.00 L687.5,95.00 L688.0,95.00 L688.5,95.00 L689.0,95.00 L689.5,95.00 L690.0,95.00 L690.5,95.00 L691.0,95.00 L691.5,95.00 L692.0,95.00 L692.5,95.00 L693.0,95.00 L693.5,95.00 L694.0,95.00 L694.5,95.00 L695.0,95.00 L695.5,95.00 L696.0,95.00 L696.5,95.00 L697.0,95.00 L697.5,95.00 L698.0,95.00 L698.5,95.00 L699.0,95.00 L699.5,95.00 L700.0,95.00 L700.5,95.00 L701.0,95.00 L701.5,95.00 L702.0,95.00 L702.5,95.00 L703.0,95.00 L703.5,95.00 L704.0,95.00 L704.5,95.00 L705.0,95.00 L705.5,95.00 L706.0,95.00 L706.5,95.00 L707.0,95.00 L707.5,95.00 L708.0,95.00 L708.5,95.00 L709.0,95.00 L709.5,95.00 L710.0,95.00 L710.5,95.00 L711.0,95.00 L711.5,95.00 L712.0,95.00 L712.5,95.00 L713.0,95.00 L713.5,95.00 L714.0,95.00" fill="none" stroke="#f3a35c" stroke-width="1.7" stroke-linejoin="round" stroke-linecap="round" />
<path d="M536.7,86.90 L537.2,87.37 L537.7,87.84 L538.2,88.31 L538.7,88.79 L539.2,89.26 L539.7,89.72 L540.2,90.17 L540.7,90.60 L541.2,91.09 L541.8,91.63 L542.3,92.18 L542.8,92.69 L543.3,93.11 L543.9,93.39 L544.4,93.50 L544.9,93.10 L545.5,92.02 L546.0,90.42 L546.5,88.49 L547.0,86.39 L547.6,84.30 L548.1,82.40 L548.7,80.16 L549.2,77.46 L549.8,74.69 L550.4,72.23 L550.9,70.47 L551.5,69.80 L552.0,70.13 L552.6,70.99 L553.1,72.23 L553.6,73.67 L554.2,75.15 L554.7,76.50 L555.2,77.82 L555.8,79.29 L556.3,80.83 L556.8,82.36 L557.3,83.80 L557.9,85.07 L558.4,86.10 L558.9,86.95 L559.5,87.73 L560.0,88.45 L560.5,89.10 L561.0,89.68 L561.6,90.18 L562.1,90.60 L562.6,90.95 L563.1,91.27 L563.6,91.56 L564.1,91.84 L564.6,92.10 L565.1,92.34 L565.6,92.56 L566.1,92.77 L566.6,92.97 L567.1,93.15 L567.6,93.33 L568.1,93.50 L568.6,93.68 L569.2,93.87 L569.7,94.06 L570.2,94.24 L570.8,94.41 L571.3,94.57 L571.9,94.71 L572.4,94.83 L572.9,94.92 L573.5,94.98 L574.0,95.00 L574.5,95.00 L575.0,95.00 L575.5,95.00 L576.1,95.00 L576.6,95.00 L577.1,95.00 L577.6,95.00 L578.1,95.00 L578.6,95.00 L579.1,95.00 L579.6,95.00 L580.2,95.00 L580.7,95.00 L581.2,95.00 L581.7,95.00 L582.2,95.00 L582.7,95.00 L583.2,95.00 L583.7,95.00 L584.3,95.00 L584.8,95.00 L585.3,95.00 L585.8,95.00 L586.4,95.58 L587.0,97.02 L587.5,98.91 L588.1,100.81 L588.7,102.30 L589.2,103.39 L589.8,104.53 L590.3,105.64 L590.8,106.64 L591.3,107.46 L591.9,108.00 L592.4,108.20 L592.9,108.02 L593.4,107.54 L593.9,106.85 L594.4,106.03 L594.9,105.17 L595.4,104.35 L595.9,103.66 L596.4,103.18 L596.9,103.00 L597.4,103.02 L598.0,103.06 L598.5,103.13 L599.0,103.21 L599.6,103.30 L600.1,103.40 L600.7,103.49 L601.2,103.57 L601.7,103.64 L602.3,103.68 L602.8,103.70 L603.3,103.59 L603.8,103.29 L604.4,102.84 L604.9,102.27 L605.4,101.62 L605.9,100.93 L606.4,100.23 L607.0,99.57 L607.5,98.98 L608.0,98.50 L608.5,98.08 L609.0,97.64 L609.5,97.19 L610.0,96.76 L610.5,96.36 L611.0,96.01 L611.5,95.74 L612.0,95.56 L612.5,95.50 L613.0,95.62 L613.5,95.96 L614.1,96.48 L614.6,97.15 L615.1,97.92 L615.6,98.75 L616.2,99.62 L616.7,100.48 L617.2,101.30 L617.7,102.26 L618.3,103.47 L618.8,104.81 L619.4,106.15 L619.9,107.40 L620.4,108.44 L621.0,109.14 L621.5,109.40 L622.0,109.27 L622.6,108.92 L623.1,108.41 L623.6,107.82 L624.2,107.18 L624.7,106.59 L625.2,106.08 L625.8,105.73 L626.3,105.60 L626.8,105.79 L627.3,106.33 L627.8,107.14 L628.4,108.17 L628.9,109.36 L629.4,110.64 L629.9,111.96 L630.4,113.24 L630.9,114.43 L631.5,115.46 L632.0,116.27 L632.5,116.81 L633.0,117.00 L633.5,116.79 L634.0,116.21 L634.6,115.33 L635.1,114.19 L635.6,112.87 L636.1,111.43 L636.7,109.93 L637.2,108.43 L637.7,107.00 L638.3,105.11 L638.9,102.79 L639.4,100.45 L640.0,98.51 L640.6,97.40 L641.2,96.85 L641.8,96.41 L642.4,96.11 L643.0,96.00 L643.5,96.07 L644.0,96.25 L644.6,96.52 L645.1,96.84 L645.6,97.20 L646.1,97.56 L646.6,97.88 L647.2,98.15 L647.7,98.33 L648.2,98.40 L648.7,98.35 L649.3,98.21 L649.8,98.00 L650.4,97.75 L650.9,97.49 L651.5,97.23 L652.0,97.00 L652.6,96.77 L653.1,96.51 L653.7,96.24 L654.2,95.98 L654.8,95.76 L655.3,95.59 L655.9,95.50 L656.4,95.46 L656.9,95.43 L657.4,95.39 L657.9,95.36 L658.4,95.33 L658.9,95.30 L659.4,95.27 L659.9,95.24 L660.4,95.22 L660.9,95.19 L661.4,95.17 L661.9,95.15 L662.4,95.13 L663.0,95.11 L663.5,95.10 L664.0,95.08 L664.5,95.07 L665.0,95.06 L665.5,95.05 L666.0,95.04 L666.5,95.03 L667.0,95.02 L667.5,95.01 L668.0,95.01 L668.5,95.00 L669.0,95.00 L669.5,95.00 L670.0,95.00 L670.5,95.00 L671.0,95.00 L671.5,95.00 L672.0,95.00 L672.5,95.00 L673.0,95.00 L673.5,95.01 L674.0,95.01 L674.5,95.01 L675.0,95.01 L675.5,95.01 L676.0,95.02 L676.5,95.02 L677.0,95.02 L677.5,95.03 L678.0,95.03 L678.5,95.03 L679.0,95.04 L679.5,95.04 L680.0,95.05 L680.5,95.05 L681.0,95.05 L681.5,95.06 L682.0,95.06 L682.5,95.07 L683.0,95.07 L683.5,95.08 L684.0,95.09 L684.5,95.09 L685.0,95.10 L685.5,95.10 L686.0,95.11 L686.5,95.11 L687.0,95.12 L687.5,95.13 L688.0,95.13 L688.5,95.14 L689.0,95.15 L689.5,95.15 L690.0,95.16 L690.5,95.17 L691.0,95.17 L691.5,95.18 L692.0,95.19 L692.5,95.19 L693.0,95.20 L693.5,95.21 L694.0,95.22 L694.5,95.22 L695.0,95.23 L695.5,95.24 L696.0,95.25 L696.5,95.25 L697.0,95.26 L697.5,95.27 L698.0,95.28 L698.5,95.28 L699.0,95.29 L699.5,95.30 L700.0,95.31 L700.5,95.31 L701.0,95.32 L701.5,95.33 L702.0,95.34 L702.5,95.34 L703.0,95.35 L703.5,95.36 L704.0,95.37 L704.5,95.37 L705.0,95.38 L705.5,95.39 L706.0,95.40 L706.5,95.40 L707.0,95.41 L707.5,95.42 L708.0,95.42 L708.5,95.43 L709.0,95.44 L709.5,95.44 L710.0,95.45 L710.5,95.46 L711.0,95.46 L711.5,95.47 L712.0,95.48 L712.5,95.48 L713.0,95.49 L713.5,95.49 L714.0,95.50" fill="none" stroke="#4a76c6" stroke-width="1.7" stroke-linejoin="round" stroke-linecap="round" />
<path d="M536.7,95.50 L537.2,95.50 L537.7,95.50 L538.2,95.50 L538.7,95.50 L539.2,95.50 L539.7,95.50 L540.2,95.50 L540.7,95.49 L541.2,95.49 L541.7,95.49 L542.2,95.49 L542.7,95.49 L543.2,95.49 L543.7,95.49 L544.2,95.49 L544.7,95.49 L545.2,95.49 L545.7,95.49 L546.2,95.49 L546.7,95.49 L547.2,95.49 L547.7,95.49 L548.2,95.49 L548.7,95.48 L549.2,95.48 L549.7,95.48 L550.2,95.48 L550.7,95.48 L551.2,95.48 L551.7,95.48 L552.2,95.48 L552.7,95.48 L553.2,95.48 L553.7,95.48 L554.2,95.48 L554.7,95.48 L555.2,95.48 L555.7,95.48 L556.2,95.48 L556.7,95.48 L557.2,95.48 L557.7,95.48 L558.2,95.48 L558.7,95.48 L559.3,95.48 L559.8,95.47 L560.3,95.47 L560.8,95.47 L561.3,95.47 L561.8,95.47 L562.3,95.47 L562.8,95.47 L563.3,95.47 L563.8,95.47 L564.3,95.47 L564.8,95.47 L565.3,95.47 L565.8,95.47 L566.3,95.47 L566.8,95.47 L567.3,95.47 L567.8,95.47 L568.3,95.47 L568.8,95.47 L569.3,95.47 L569.8,95.47 L570.3,95.47 L570.8,95.47 L571.3,95.47 L571.8,95.47 L572.3,95.47 L572.8,95.47 L573.3,95.47 L573.8,95.47 L574.3,95.47 L574.8,95.47 L575.3,95.47 L575.8,95.46 L576.3,95.46 L576.8,95.46 L577.3,95.46 L577.8,95.46 L578.3,95.46 L578.8,95.46 L579.3,95.46 L579.8,95.46 L580.3,95.46 L580.8,95.46 L581.3,95.46 L581.8,95.46 L582.3,95.46 L582.8,95.46 L583.3,95.46 L583.8,95.46 L584.3,95.46 L584.8,95.46 L585.3,95.46 L585.8,95.46 L586.3,95.46 L586.8,95.46 L587.3,95.46 L587.8,95.46 L588.3,95.46 L588.8,95.46 L589.3,95.46 L589.8,95.46 L590.3,95.46 L590.8,95.46 L591.3,95.46 L591.8,95.46 L592.3,95.46 L592.8,95.46 L593.3,95.45 L593.8,95.45 L594.3,95.45 L594.8,95.45 L595.3,95.45 L595.8,95.45 L596.3,95.45 L596.8,95.45 L597.3,95.45 L597.8,95.45 L598.3,95.45 L598.8,95.45 L599.3,95.45 L599.8,95.45 L600.3,95.45 L600.8,95.45 L601.3,95.45 L601.8,95.45 L602.3,95.45 L602.8,95.45 L603.3,95.45 L603.9,95.45 L604.4,95.45 L604.9,95.45 L605.4,95.45 L605.9,95.45 L606.4,95.45 L606.9,95.45 L607.4,95.44 L607.9,95.44 L608.4,95.44 L608.9,95.44 L609.4,95.44 L609.9,95.44 L610.4,95.44 L610.9,95.44 L611.4,95.44 L611.9,95.44 L612.4,95.44 L612.9,95.44 L613.4,95.44 L613.9,95.44 L614.4,95.44 L614.9,95.44 L615.4,95.44 L615.9,95.44 L616.4,95.44 L616.9,95.44 L617.4,95.43 L617.9,95.43 L618.4,95.43 L618.9,95.43 L619.4,95.43 L619.9,95.43 L620.4,95.43 L620.9,95.43 L621.4,95.43 L621.9,95.43 L622.4,95.43 L622.9,95.43 L623.4,95.43 L623.9,95.43 L624.4,95.43 L624.9,95.42 L625.4,95.42 L625.9,95.42 L626.4,95.42 L626.9,95.42 L627.4,95.42 L627.9,95.42 L628.4,95.42 L628.9,95.42 L629.4,95.42 L629.9,95.42 L630.4,95.42 L630.9,95.42 L631.4,95.41 L631.9,95.41 L632.4,95.41 L632.9,95.41 L633.4,95.41 L633.9,95.41 L634.4,95.41 L634.9,95.41 L635.4,95.41 L635.9,95.41 L636.4,95.41 L636.9,95.40 L637.4,95.40 L637.9,95.40 L638.4,95.40 L638.9,95.40 L639.4,95.40 L639.9,95.40 L640.4,95.40 L640.9,95.40 L641.4,95.39 L641.9,95.39 L642.4,95.39 L642.9,95.39 L643.4,95.39 L643.9,95.39 L644.4,95.39 L644.9,95.39 L645.4,95.38 L645.9,95.38 L646.4,95.38 L646.9,95.38 L647.4,95.38 L647.9,95.38 L648.5,95.38 L649.0,95.38 L649.5,95.37 L650.0,95.37 L650.5,95.37 L651.0,95.37 L651.5,95.37 L652.0,95.37 L652.5,95.37 L653.0,95.36 L653.5,95.36 L654.0,95.36 L654.5,95.36 L655.0,95.36 L655.5,95.36 L656.0,95.35 L656.5,95.35 L657.0,95.35 L657.5,95.35 L658.0,95.35 L658.5,95.35 L659.0,95.34 L659.5,95.34 L660.0,95.34 L660.5,95.34 L661.0,95.34 L661.5,95.34 L662.0,95.33 L662.5,95.33 L663.0,95.33 L663.5,95.33 L664.0,95.33 L664.5,95.32 L665.0,95.32 L665.5,95.32 L666.0,95.32 L666.5,95.32 L667.0,95.31 L667.5,95.31 L668.0,95.31 L668.5,95.31 L669.0,95.31 L669.5,95.30 L670.0,95.30 L670.5,95.30 L671.0,94.78 L671.6,93.39 L672.1,91.41 L672.7,89.11 L673.2,86.74 L673.8,84.58 L674.3,82.90 L674.8,81.53 L675.4,80.11 L675.9,78.69 L676.4,77.30 L677.0,75.99 L677.5,74.82 L678.0,73.83 L678.5,73.07 L679.1,72.57 L679.6,72.40 L680.1,72.62 L680.7,73.23 L681.2,74.15 L681.8,75.28 L682.3,76.53 L682.9,77.84 L683.4,79.10 L683.9,80.50 L684.5,82.21 L685.0,84.12 L685.5,86.10 L686.1,88.04 L686.6,89.82 L687.2,91.31 L687.7,92.40 L688.3,93.29 L688.8,94.13 L689.4,94.83 L689.9,95.32 L690.5,95.50 L691.0,95.49 L691.5,95.47 L692.0,95.44 L692.6,95.40 L693.1,95.34 L693.6,95.28 L694.1,95.20 L694.6,95.12 L695.1,95.03 L695.6,94.94 L696.1,94.84 L696.7,94.73 L697.2,94.62 L697.7,94.51 L698.2,94.40 L698.7,94.25 L699.2,94.05 L699.7,93.79 L700.2,93.50 L700.7,93.18 L701.2,92.84 L701.8,92.50 L702.3,92.17 L702.8,91.86 L703.3,91.58 L703.8,91.34 L704.3,91.16 L704.8,91.04 L705.3,91.00 L705.8,91.06 L706.3,91.24 L706.8,91.51 L707.4,91.86 L707.9,92.27 L708.4,92.72 L708.9,93.20 L709.4,93.68 L710.0,94.15 L710.5,94.58 L711.0,94.98 L711.5,95.30 L712.0,95.56 L712.5,95.81 L713.0,96.04 L713.5,96.27 L714.0,96.50" fill="none" stroke="#c9a3d8" stroke-width="1.7" stroke-linejoin="round" stroke-linecap="round" />
<path d="M536.7,95.00 L537.2,94.80 L537.7,94.62 L538.2,94.45 L538.7,94.28 L539.3,94.13 L539.8,93.97 L540.3,93.82 L540.8,93.66 L541.3,93.50 L541.8,93.32 L542.3,93.14 L542.8,92.94 L543.3,92.73 L543.9,92.49 L544.4,92.24 L544.9,91.95 L545.4,91.64 L545.9,91.30 L546.4,90.76 L546.9,89.89 L547.4,88.76 L547.9,87.43 L548.4,85.97 L548.9,84.44 L549.5,82.91 L550.0,81.43 L550.5,80.08 L551.0,78.92 L551.5,78.01 L552.0,77.41 L552.5,77.20 L553.0,77.38 L553.5,77.87 L554.1,78.61 L554.6,79.54 L555.1,80.58 L555.6,81.69 L556.1,82.79 L556.7,83.81 L557.2,84.71 L557.7,85.40 L558.2,85.95 L558.7,86.48 L559.3,86.97 L559.8,87.43 L560.3,87.87 L560.8,88.29 L561.3,88.69 L561.9,89.07 L562.4,89.44 L562.9,89.80 L563.4,90.15 L563.9,90.49 L564.5,90.82 L565.0,91.14 L565.5,91.45 L566.0,91.75 L566.5,92.03 L567.1,92.30 L567.6,92.56 L568.1,92.80 L568.6,93.05 L569.2,93.32 L569.7,93.59 L570.2,93.86 L570.8,94.11 L571.3,94.35 L571.9,94.56 L572.4,94.74 L572.9,94.88 L573.5,94.97 L574.0,95.00 L574.5,95.00 L575.0,95.00 L575.5,95.00 L576.1,95.00 L576.6,95.00 L577.1,95.00 L577.6,95.00 L578.1,95.00 L578.6,95.00 L579.1,95.00 L579.6,95.00 L580.2,95.00 L580.7,95.00 L581.2,95.00 L581.7,95.00 L582.2,95.00 L582.7,95.00 L583.2,95.00 L583.7,95.00 L584.3,95.00 L584.8,95.00 L585.3,95.00 L585.8,95.00 L586.4,95.17 L587.0,95.63 L587.5,96.30 L588.1,97.11 L588.7,98.00 L589.2,99.29 L589.8,101.29 L590.3,103.68 L590.8,106.12 L591.3,108.28 L591.9,109.81 L592.4,110.40 L592.9,110.12 L593.4,109.36 L594.0,108.24 L594.5,106.87 L595.0,105.36 L595.5,103.85 L596.0,102.44 L596.6,101.25 L597.1,100.40 L597.6,100.00 L598.1,99.88 L598.6,99.79 L599.2,99.72 L599.7,99.67 L600.2,99.62 L600.7,99.58 L601.2,99.53 L601.8,99.47 L602.3,99.39 L602.8,99.30 L603.3,99.17 L603.8,98.99 L604.4,98.78 L604.9,98.54 L605.4,98.28 L605.9,98.01 L606.4,97.74 L607.0,97.47 L607.5,97.23 L608.0,97.00 L608.5,96.78 L609.0,96.54 L609.5,96.29 L610.0,96.05 L610.5,95.83 L611.0,95.66 L611.5,95.54 L612.0,95.50 L612.5,95.54 L613.0,95.64 L613.5,95.80 L614.0,95.99 L614.5,96.20 L615.0,96.42 L615.5,96.62 L616.0,96.80 L616.5,96.93 L617.0,97.00 L617.5,97.04 L618.0,97.07 L618.5,97.09 L619.0,97.11 L619.5,97.13 L620.1,97.15 L620.6,97.16 L621.1,97.17 L621.6,97.18 L622.1,97.19 L622.6,97.20 L623.1,97.21 L623.6,97.22 L624.1,97.24 L624.7,97.25 L625.2,97.27 L625.7,97.30 L626.2,97.33 L626.7,97.36 L627.2,97.40 L627.7,97.75 L628.3,98.63 L628.8,99.92 L629.3,101.50 L629.8,103.26 L630.4,105.07 L630.9,106.81 L631.4,108.38 L631.9,109.65 L632.5,110.49 L633.0,110.80 L633.5,110.71 L634.0,110.47 L634.6,110.08 L635.1,109.57 L635.6,108.96 L636.1,108.26 L636.6,107.49 L637.1,106.67 L637.7,105.82 L638.2,104.96 L638.7,104.10 L639.3,102.82 L639.8,101.08 L640.4,99.32 L640.9,97.95 L641.5,97.40 L642.0,97.69 L642.6,98.49 L643.1,99.63 L643.6,100.99 L644.2,102.41 L644.7,103.77 L645.2,104.91 L645.8,105.71 L646.3,106.00 L646.8,105.88 L647.3,105.55 L647.9,105.05 L648.4,104.41 L648.9,103.67 L649.4,102.87 L649.9,102.05 L650.4,101.25 L651.0,100.49 L651.5,99.83 L652.0,99.30 L652.6,98.79 L653.1,98.25 L653.7,97.72 L654.2,97.24 L654.8,96.86 L655.3,96.60 L655.9,96.50 L656.4,96.59 L656.9,96.86 L657.5,97.25 L658.0,97.74 L658.5,98.31 L659.0,98.90 L659.5,99.49 L660.0,100.06 L660.5,100.55 L661.1,100.94 L661.6,101.21 L662.1,101.30 L662.6,101.19 L663.2,100.88 L663.7,100.42 L664.2,99.85 L664.8,99.21 L665.3,98.55 L665.8,97.91 L666.3,97.32 L666.9,96.84 L667.4,96.50 L667.9,96.26 L668.4,96.04 L668.9,95.83 L669.4,95.63 L670.0,95.45 L670.5,95.30 L671.0,95.17 L671.5,95.07 L672.0,95.00 L672.5,94.95 L673.0,94.89 L673.5,94.84 L674.0,94.79 L674.5,94.74 L675.1,94.69 L675.6,94.65 L676.1,94.60 L676.6,94.56 L677.1,94.52 L677.6,94.47 L678.1,94.44 L678.6,94.40 L679.1,94.36 L679.6,94.33 L680.2,94.29 L680.7,94.26 L681.2,94.23 L681.7,94.20 L682.2,94.17 L682.7,94.15 L683.2,94.12 L683.7,94.10 L684.2,94.07 L684.8,94.05 L685.3,94.03 L685.8,94.01 L686.3,94.00 L686.8,93.98 L687.3,93.97 L687.8,93.95 L688.3,93.94 L688.8,93.93 L689.3,93.92 L689.9,93.92 L690.4,93.91 L690.9,93.91 L691.4,93.90 L691.9,93.90 L692.4,93.90 L692.9,94.02 L693.5,94.35 L694.0,94.85 L694.5,95.46 L695.0,96.15 L695.6,96.85 L696.1,97.54 L696.6,98.15 L697.1,98.65 L697.7,98.98 L698.2,99.10 L698.7,99.04 L699.2,98.87 L699.8,98.61 L700.3,98.29 L700.8,97.93 L701.3,97.56 L701.8,97.19 L702.3,96.86 L702.9,96.59 L703.4,96.39 L703.9,96.30 L704.4,96.27 L704.9,96.24 L705.4,96.22 L705.9,96.20 L706.4,96.18 L706.9,96.16 L707.4,96.15 L707.9,96.13 L708.4,96.12 L709.0,96.11 L709.5,96.10 L710.0,96.09 L710.5,96.08 L711.0,96.07 L711.5,96.06 L712.0,96.05 L712.5,96.04 L713.0,96.03 L713.5,96.01 L714.0,96.00" fill="none" stroke="#4cb65a" stroke-width="1.7" stroke-linejoin="round" stroke-linecap="round" />
<path d="M536.7,88.30 L537.2,88.81 L537.8,89.39 L538.3,90.01 L538.8,90.63 L539.4,91.24 L539.9,91.80 L540.4,92.28 L540.9,92.66 L541.5,92.91 L542.0,93.00 L542.5,92.99 L543.0,92.95 L543.5,92.89 L544.0,92.81 L544.5,92.72 L545.0,92.61 L545.5,92.50 L546.0,92.37 L546.5,92.25 L547.0,92.13 L547.5,92.00 L548.0,91.89 L548.5,91.78 L549.0,91.69 L549.5,91.61 L550.0,91.55 L550.5,91.51 L551.0,91.50 L551.5,91.57 L552.0,91.76 L552.5,92.04 L553.0,92.41 L553.5,92.83 L554.0,93.28 L554.5,93.75 L555.0,94.21 L555.5,94.63 L556.0,95.00 L556.5,95.39 L557.1,95.83 L557.6,96.29 L558.2,96.76 L558.7,97.20 L559.2,97.62 L559.8,97.97 L560.3,98.25 L560.9,98.43 L561.4,98.50 L561.9,98.47 L562.4,98.37 L562.9,98.22 L563.4,98.03 L563.9,97.80 L564.4,97.53 L565.0,97.25 L565.5,96.95 L566.0,96.64 L566.5,96.33 L567.0,96.04 L567.5,95.76 L568.0,95.50 L568.5,95.25 L569.0,94.98 L569.5,94.70 L570.0,94.40 L570.5,94.10 L571.0,93.81 L571.5,93.51 L572.0,93.23 L572.5,92.96 L573.0,92.71 L573.5,92.48 L574.0,92.28 L574.5,92.12 L575.0,92.00 L575.5,91.90 L576.0,91.80 L576.5,91.71 L577.0,91.62 L577.5,91.53 L578.0,91.45 L578.5,91.37 L579.0,91.30 L579.5,91.23 L580.0,91.17 L580.5,91.12 L581.0,91.08 L581.5,91.05 L582.0,91.02 L582.5,91.01 L583.0,91.00 L583.5,91.05 L584.0,91.20 L584.5,91.44 L585.0,91.74 L585.5,92.10 L586.0,92.50 L586.5,92.93 L587.0,93.37 L587.5,93.81 L588.0,94.24 L588.5,94.63 L589.0,94.98 L589.5,95.28 L590.0,95.50 L590.5,95.68 L591.0,95.86 L591.5,96.04 L592.0,96.22 L592.5,96.39 L593.0,96.56 L593.5,96.72 L594.0,96.86 L594.5,97.00 L595.0,97.12 L595.5,97.23 L596.0,97.32 L596.5,97.40 L597.0,97.45 L597.5,97.49 L598.0,97.50 L598.5,97.50 L599.0,97.49 L599.5,97.47 L600.0,97.45 L600.5,97.42 L601.0,97.39 L601.5,97.36 L602.0,97.32 L602.5,97.29 L603.0,97.25 L603.5,97.21 L604.0,97.18 L604.5,97.14 L605.0,97.11 L605.5,97.08 L606.0,97.05 L606.5,97.03 L607.0,97.01 L607.5,97.00 L608.0,97.00 L608.5,97.00 L609.0,97.01 L609.6,97.02 L610.1,97.04 L610.6,97.07 L611.1,97.09 L611.7,97.13 L612.2,97.16 L612.7,97.20 L613.2,97.25 L613.8,97.30 L614.3,97.35 L614.8,97.40 L615.3,97.50 L615.8,97.68 L616.4,97.92 L616.9,98.21 L617.4,98.52 L617.9,98.83 L618.4,99.13 L618.9,99.39 L619.5,99.61 L620.0,99.75 L620.5,99.80 L621.0,99.75 L621.6,99.62 L622.1,99.44 L622.6,99.22 L623.2,98.98 L623.7,98.76 L624.2,98.58 L624.8,98.45 L625.3,98.40 L625.8,98.52 L626.3,98.84 L626.8,99.35 L627.4,100.00 L627.9,100.76 L628.4,101.60 L628.9,102.50 L629.4,103.40 L629.9,104.30 L630.4,105.14 L630.9,105.90 L631.5,106.55 L632.0,107.06 L632.5,107.38 L633.0,107.50 L633.5,107.34 L634.0,106.92 L634.6,106.28 L635.1,105.49 L635.6,104.61 L636.1,103.69 L636.6,102.81 L637.1,102.02 L637.7,101.38 L638.2,100.96 L638.7,100.80 L639.2,101.05 L639.7,101.74 L640.2,102.80 L640.8,104.14 L641.3,105.68 L641.8,107.35 L642.3,109.05 L642.8,110.72 L643.3,112.26 L643.9,113.60 L644.4,114.66 L644.9,115.35 L645.4,115.60 L645.9,115.36 L646.5,114.71 L647.0,113.73 L647.5,112.51 L648.1,111.14 L648.6,109.72 L649.1,108.33 L649.7,107.06 L650.2,106.00 L650.7,105.06 L651.2,104.05 L651.8,103.01 L652.3,101.97 L652.8,100.95 L653.3,100.01 L653.8,99.16 L654.3,98.44 L654.9,97.88 L655.4,97.53 L655.9,97.40 L656.4,97.57 L656.9,98.03 L657.5,98.71 L658.0,99.56 L658.5,100.51 L659.0,101.49 L659.5,102.44 L660.0,103.29 L660.6,103.97 L661.1,104.43 L661.6,104.60 L662.1,104.47 L662.7,104.12 L663.2,103.57 L663.7,102.88 L664.2,102.08 L664.8,101.22 L665.3,100.34 L665.8,99.47 L666.3,98.67 L666.9,97.96 L667.4,97.40 L667.9,96.91 L668.5,96.44 L669.0,95.98 L669.6,95.57 L670.1,95.19 L670.7,94.86 L671.2,94.60 L671.7,94.38 L672.3,94.16 L672.8,93.94 L673.3,93.73 L673.8,93.53 L674.4,93.34 L674.9,93.16 L675.4,93.00 L675.9,92.85 L676.5,92.72 L677.0,92.61 L677.5,92.52 L678.0,92.45 L678.6,92.41 L679.1,92.40 L679.6,92.43 L680.1,92.52 L680.7,92.66 L681.2,92.84 L681.7,93.05 L682.2,93.28 L682.7,93.52 L683.2,93.77 L683.8,94.00 L684.3,94.21 L684.8,94.40 L685.3,94.58 L685.8,94.78 L686.4,95.00 L686.9,95.21 L687.4,95.41 L687.9,95.60 L688.4,95.76 L689.0,95.89 L689.5,95.97 L690.0,96.00 L690.5,96.00 L691.0,95.99 L691.5,95.97 L692.0,95.95 L692.5,95.92 L693.0,95.89 L693.5,95.86 L694.0,95.82 L694.5,95.79 L695.0,95.75 L695.5,95.71 L696.0,95.68 L696.5,95.64 L697.0,95.61 L697.5,95.58 L698.0,95.55 L698.5,95.53 L699.0,95.51 L699.5,95.50 L700.0,95.50 L700.5,95.50 L701.0,95.51 L701.5,95.53 L702.0,95.56 L702.5,95.59 L703.0,95.62 L703.5,95.66 L704.0,95.71 L704.5,95.76 L705.0,95.81 L705.5,95.87 L706.0,95.93 L706.5,96.00 L707.0,96.06 L707.5,96.13 L708.0,96.20 L708.5,96.27 L709.0,96.34 L709.5,96.41 L710.0,96.48 L710.5,96.55 L711.0,96.62 L711.5,96.69 L712.0,96.76 L712.5,96.82 L713.0,96.89 L713.5,96.94 L714.0,97.00" fill="none" stroke="#e5463f" stroke-width="1.7" stroke-linejoin="round" stroke-linecap="round" />
<defs><radialGradient id="ga" cx="0.38" cy="0.35" r="0.7"><stop offset="0" stop-color="#d0d0d0"/><stop offset="0.55" stop-color="#8e8e8e"/><stop offset="1" stop-color="#5e5e5e"/></radialGradient><radialGradient id="gn" cx="0.38" cy="0.35" r="0.7"><stop offset="0" stop-color="#7080e0"/><stop offset="0.55" stop-color="#3040b0"/><stop offset="1" stop-color="#1c2888"/></radialGradient><radialGradient id="gs" cx="0.38" cy="0.35" r="0.7"><stop offset="0" stop-color="#fff2a0"/><stop offset="0.55" stop-color="#e0c828"/><stop offset="1" stop-color="#a89010"/></radialGradient></defs>
<line x1="301.40" y1="106.50" x2="301.40" y2="113.70" stroke="#a8a8a8" stroke-width="1.1" />
<line x1="314.60" y1="106.50" x2="314.60" y2="113.70" stroke="#a8a8a8" stroke-width="1.1" />
<line x1="328.00" y1="106.50" x2="328.00" y2="113.70" stroke="#a8a8a8" stroke-width="1.1" />
<line x1="301.40" y1="113.70" x2="294.90" y2="117.30" stroke="#a8a8a8" stroke-width="1.1" />
<line x1="301.40" y1="113.70" x2="307.90" y2="117.30" stroke="#a8a8a8" stroke-width="1.1" />
<line x1="314.60" y1="113.70" x2="307.90" y2="117.30" stroke="#a8a8a8" stroke-width="1.1" />
<line x1="314.60" y1="113.70" x2="321.50" y2="117.30" stroke="#a8a8a8" stroke-width="1.1" />
<line x1="328.00" y1="113.70" x2="321.50" y2="117.30" stroke="#a8a8a8" stroke-width="1.1" />
<line x1="328.00" y1="113.70" x2="334.50" y2="117.30" stroke="#a8a8a8" stroke-width="1.1" />
<line x1="301.40" y1="128.80" x2="301.40" y2="136.00" stroke="#a8a8a8" stroke-width="1.1" />
<line x1="301.40" y1="128.80" x2="294.90" y2="125.20" stroke="#a8a8a8" stroke-width="1.1" />
<line x1="301.40" y1="128.80" x2="307.90" y2="125.20" stroke="#a8a8a8" stroke-width="1.1" />
<line x1="328.00" y1="128.80" x2="328.00" y2="136.00" stroke="#a8a8a8" stroke-width="1.1" />
<line x1="328.00" y1="128.80" x2="334.50" y2="125.20" stroke="#a8a8a8" stroke-width="1.1" />
<line x1="328.00" y1="128.80" x2="321.50" y2="125.20" stroke="#a8a8a8" stroke-width="1.1" />
<line x1="301.40" y1="136.00" x2="294.90" y2="139.60" stroke="#a8a8a8" stroke-width="1.1" />
<line x1="301.40" y1="136.00" x2="307.90" y2="139.60" stroke="#a8a8a8" stroke-width="1.1" />
<line x1="328.00" y1="136.00" x2="334.50" y2="139.60" stroke="#a8a8a8" stroke-width="1.1" />
<line x1="328.00" y1="136.00" x2="321.50" y2="139.60" stroke="#a8a8a8" stroke-width="1.1" />
<line x1="301.40" y1="150.40" x2="301.40" y2="158.40" stroke="#a8a8a8" stroke-width="1.1" />
<line x1="301.40" y1="150.40" x2="294.90" y2="146.80" stroke="#a8a8a8" stroke-width="1.1" />
<line x1="301.40" y1="150.40" x2="307.90" y2="146.80" stroke="#a8a8a8" stroke-width="1.1" />
<line x1="314.60" y1="150.40" x2="314.60" y2="158.40" stroke="#a8a8a8" stroke-width="1.1" />
<line x1="314.60" y1="150.40" x2="307.90" y2="146.80" stroke="#a8a8a8" stroke-width="1.1" />
<line x1="314.60" y1="150.40" x2="321.50" y2="146.80" stroke="#a8a8a8" stroke-width="1.1" />
<line x1="328.00" y1="150.40" x2="328.00" y2="158.40" stroke="#a8a8a8" stroke-width="1.1" />
<line x1="328.00" y1="150.40" x2="321.50" y2="146.80" stroke="#a8a8a8" stroke-width="1.1" />
<line x1="328.00" y1="150.40" x2="334.50" y2="146.80" stroke="#a8a8a8" stroke-width="1.1" />
<line x1="301.40" y1="158.40" x2="294.90" y2="162.00" stroke="#a8a8a8" stroke-width="1.1" />
<line x1="301.40" y1="158.40" x2="307.90" y2="162.00" stroke="#a8a8a8" stroke-width="1.1" />
<line x1="314.60" y1="158.40" x2="307.90" y2="162.00" stroke="#a8a8a8" stroke-width="1.1" />
<line x1="314.60" y1="158.40" x2="321.50" y2="162.00" stroke="#a8a8a8" stroke-width="1.1" />
<line x1="328.00" y1="158.40" x2="321.50" y2="162.00" stroke="#a8a8a8" stroke-width="1.1" />
<line x1="328.00" y1="158.40" x2="334.50" y2="162.00" stroke="#a8a8a8" stroke-width="1.1" />
<line x1="294.90" y1="117.30" x2="294.90" y2="125.20" stroke="#a8a8a8" stroke-width="1.1" />
<line x1="307.90" y1="117.30" x2="307.90" y2="125.20" stroke="#a8a8a8" stroke-width="1.1" />
<line x1="321.50" y1="117.30" x2="321.50" y2="125.20" stroke="#a8a8a8" stroke-width="1.1" />
<line x1="334.50" y1="117.30" x2="334.50" y2="125.20" stroke="#a8a8a8" stroke-width="1.1" />
<line x1="294.90" y1="139.60" x2="294.90" y2="146.80" stroke="#a8a8a8" stroke-width="1.1" />
<line x1="334.50" y1="139.60" x2="334.50" y2="146.80" stroke="#a8a8a8" stroke-width="1.1" />
<line x1="307.90" y1="146.80" x2="307.90" y2="139.60" stroke="#a8a8a8" stroke-width="1.1" />
<line x1="321.50" y1="146.80" x2="321.50" y2="139.60" stroke="#a8a8a8" stroke-width="1.1" />
<line x1="307.90" y1="125.20" x2="315.00" y2="132.50" stroke="#b0509a" stroke-width="1.2" />
<line x1="321.50" y1="125.20" x2="315.00" y2="132.50" stroke="#b0509a" stroke-width="1.2" />
<line x1="307.90" y1="139.60" x2="315.00" y2="132.50" stroke="#b0509a" stroke-width="1.2" />
<line x1="321.50" y1="139.60" x2="315.00" y2="132.50" stroke="#b0509a" stroke-width="1.2" />
<circle cx="301.40" cy="106.50" r="2.5" fill="url(#ga)"/>
<circle cx="314.60" cy="106.50" r="2.5" fill="url(#ga)"/>
<circle cx="328.00" cy="106.50" r="2.5" fill="url(#ga)"/>
<circle cx="301.40" cy="113.70" r="2.5" fill="url(#ga)"/>
<circle cx="314.60" cy="113.70" r="2.5" fill="url(#ga)"/>
<circle cx="328.00" cy="113.70" r="2.5" fill="url(#ga)"/>
<circle cx="301.40" cy="128.80" r="2.5" fill="url(#ga)"/>
<circle cx="328.00" cy="128.80" r="2.5" fill="url(#ga)"/>
<circle cx="301.40" cy="136.00" r="2.5" fill="url(#ga)"/>
<circle cx="328.00" cy="136.00" r="2.5" fill="url(#ga)"/>
<circle cx="301.40" cy="150.40" r="2.5" fill="url(#ga)"/>
<circle cx="314.60" cy="150.40" r="2.5" fill="url(#ga)"/>
<circle cx="328.00" cy="150.40" r="2.5" fill="url(#ga)"/>
<circle cx="301.40" cy="158.40" r="2.5" fill="url(#ga)"/>
<circle cx="314.60" cy="158.40" r="2.5" fill="url(#ga)"/>
<circle cx="328.00" cy="158.40" r="2.5" fill="url(#ga)"/>
<circle cx="294.90" cy="117.30" r="2.5" fill="url(#ga)"/>
<circle cx="307.90" cy="117.30" r="2.5" fill="url(#ga)"/>
<circle cx="321.50" cy="117.30" r="2.5" fill="url(#ga)"/>
<circle cx="334.50" cy="117.30" r="2.5" fill="url(#ga)"/>
<circle cx="294.90" cy="125.20" r="2.5" fill="url(#ga)"/>
<circle cx="334.50" cy="125.20" r="2.5" fill="url(#ga)"/>
<circle cx="294.90" cy="139.60" r="2.5" fill="url(#ga)"/>
<circle cx="334.50" cy="139.60" r="2.5" fill="url(#ga)"/>
<circle cx="294.90" cy="146.80" r="2.5" fill="url(#ga)"/>
<circle cx="307.90" cy="146.80" r="2.5" fill="url(#ga)"/>
<circle cx="321.50" cy="146.80" r="2.5" fill="url(#ga)"/>
<circle cx="334.50" cy="146.80" r="2.5" fill="url(#ga)"/>
<circle cx="294.90" cy="162.00" r="2.5" fill="url(#ga)"/>
<circle cx="307.90" cy="162.00" r="2.5" fill="url(#ga)"/>
<circle cx="321.50" cy="162.00" r="2.5" fill="url(#ga)"/>
<circle cx="334.50" cy="162.00" r="2.5" fill="url(#ga)"/>
<circle cx="307.90" cy="125.20" r="2.9" fill="url(#gn)"/>
<circle cx="321.50" cy="125.20" r="2.9" fill="url(#gn)"/>
<circle cx="307.90" cy="139.60" r="2.9" fill="url(#gn)"/>
<circle cx="321.50" cy="139.60" r="2.9" fill="url(#gn)"/>
<rect x="312.3" y="129.9" width="5.4" height="5.4" fill="#b8388f"/>
<line x1="542.30" y1="108.10" x2="544.60" y2="113.65" stroke="#a8a8a8" stroke-width="1.0" />
<line x1="544.60" y1="113.65" x2="551.00" y2="113.65" stroke="#a8a8a8" stroke-width="1.0" />
<line x1="544.60" y1="113.65" x2="542.30" y2="119.20" stroke="#a8a8a8" stroke-width="1.0" />
<line x1="551.00" y1="113.65" x2="555.10" y2="108.10" stroke="#a8a8a8" stroke-width="1.0" />
<line x1="551.00" y1="113.65" x2="555.10" y2="119.20" stroke="#a8a8a8" stroke-width="1.0" />
<line x1="555.10" y1="108.10" x2="561.50" y2="108.10" stroke="#a8a8a8" stroke-width="1.0" />
<line x1="561.50" y1="108.10" x2="563.80" y2="113.65" stroke="#a8a8a8" stroke-width="1.0" />
<line x1="563.80" y1="113.65" x2="570.20" y2="113.65" stroke="#a8a8a8" stroke-width="1.0" />
<line x1="563.80" y1="113.65" x2="561.50" y2="119.20" stroke="#a8a8a8" stroke-width="1.0" />
<line x1="570.20" y1="113.65" x2="574.30" y2="108.10" stroke="#a8a8a8" stroke-width="1.0" />
<line x1="570.20" y1="113.65" x2="574.30" y2="119.20" stroke="#a8a8a8" stroke-width="1.0" />
<line x1="574.30" y1="108.10" x2="580.70" y2="108.10" stroke="#a8a8a8" stroke-width="1.0" />
<line x1="580.70" y1="108.10" x2="583.00" y2="113.65" stroke="#a8a8a8" stroke-width="1.0" />
<line x1="583.00" y1="113.65" x2="580.70" y2="119.20" stroke="#a8a8a8" stroke-width="1.0" />
<line x1="542.30" y1="119.20" x2="544.60" y2="124.75" stroke="#a8a8a8" stroke-width="1.0" />
<line x1="544.60" y1="124.75" x2="551.00" y2="124.75" stroke="#a8a8a8" stroke-width="1.0" />
<line x1="544.60" y1="124.75" x2="542.30" y2="130.30" stroke="#a8a8a8" stroke-width="1.0" />
<line x1="551.00" y1="124.75" x2="555.10" y2="119.20" stroke="#a8a8a8" stroke-width="1.0" />
<line x1="555.10" y1="119.20" x2="561.50" y2="119.20" stroke="#a8a8a8" stroke-width="1.0" />
<line x1="561.50" y1="119.20" x2="564.90" y2="124.50" stroke="#a8a8a8" stroke-width="1.0" />
<line x1="570.20" y1="124.75" x2="574.30" y2="119.20" stroke="#a8a8a8" stroke-width="1.0" />
<line x1="570.20" y1="124.75" x2="574.30" y2="130.30" stroke="#a8a8a8" stroke-width="1.0" />
<line x1="570.20" y1="124.75" x2="564.90" y2="124.50" stroke="#a8a8a8" stroke-width="1.0" />
<line x1="574.30" y1="119.20" x2="580.70" y2="119.20" stroke="#a8a8a8" stroke-width="1.0" />
<line x1="580.70" y1="119.20" x2="583.00" y2="124.75" stroke="#a8a8a8" stroke-width="1.0" />
<line x1="583.00" y1="124.75" x2="580.70" y2="130.30" stroke="#a8a8a8" stroke-width="1.0" />
<line x1="542.30" y1="130.30" x2="544.60" y2="135.85" stroke="#a8a8a8" stroke-width="1.0" />
<line x1="544.60" y1="135.85" x2="551.00" y2="135.85" stroke="#a8a8a8" stroke-width="1.0" />
<line x1="544.60" y1="135.85" x2="542.30" y2="141.40" stroke="#a8a8a8" stroke-width="1.0" />
<line x1="551.00" y1="135.85" x2="555.10" y2="141.40" stroke="#a8a8a8" stroke-width="1.0" />
<line x1="551.00" y1="135.85" x2="553.90" y2="131.40" stroke="#a8a8a8" stroke-width="1.0" />
<line x1="574.30" y1="130.30" x2="580.70" y2="130.30" stroke="#a8a8a8" stroke-width="1.0" />
<line x1="580.70" y1="130.30" x2="583.00" y2="135.85" stroke="#a8a8a8" stroke-width="1.0" />
<line x1="583.00" y1="135.85" x2="580.70" y2="141.40" stroke="#a8a8a8" stroke-width="1.0" />
<line x1="542.30" y1="141.40" x2="544.60" y2="146.95" stroke="#a8a8a8" stroke-width="1.0" />
<line x1="544.60" y1="146.95" x2="551.00" y2="146.95" stroke="#a8a8a8" stroke-width="1.0" />
<line x1="544.60" y1="146.95" x2="542.30" y2="152.50" stroke="#a8a8a8" stroke-width="1.0" />
<line x1="551.00" y1="146.95" x2="555.10" y2="141.40" stroke="#a8a8a8" stroke-width="1.0" />
<line x1="551.00" y1="146.95" x2="555.10" y2="152.50" stroke="#a8a8a8" stroke-width="1.0" />
<line x1="555.10" y1="141.40" x2="559.70" y2="142.70" stroke="#a8a8a8" stroke-width="1.0" />
<line x1="563.80" y1="146.95" x2="570.20" y2="146.95" stroke="#a8a8a8" stroke-width="1.0" />
<line x1="563.80" y1="146.95" x2="561.50" y2="152.50" stroke="#a8a8a8" stroke-width="1.0" />
<line x1="563.80" y1="146.95" x2="559.70" y2="142.70" stroke="#a8a8a8" stroke-width="1.0" />
<line x1="570.20" y1="146.95" x2="574.30" y2="141.40" stroke="#a8a8a8" stroke-width="1.0" />
<line x1="570.20" y1="146.95" x2="574.30" y2="152.50" stroke="#a8a8a8" stroke-width="1.0" />
<line x1="574.30" y1="141.40" x2="580.70" y2="141.40" stroke="#a8a8a8" stroke-width="1.0" />
<line x1="574.30" y1="141.40" x2="571.10" y2="136.90" stroke="#a8a8a8" stroke-width="1.0" />
<line x1="580.70" y1="141.40" x2="583.00" y2="146.95" stroke="#a8a8a8" stroke-width="1.0" />
<line x1="583.00" y1="146.95" x2="580.70" y2="152.50" stroke="#a8a8a8" stroke-width="1.0" />
<line x1="542.30" y1="152.50" x2="544.60" y2="158.05" stroke="#a8a8a8" stroke-width="1.0" />
<line x1="544.60" y1="158.05" x2="551.00" y2="158.05" stroke="#a8a8a8" stroke-width="1.0" />
<line x1="551.00" y1="158.05" x2="555.10" y2="152.50" stroke="#a8a8a8" stroke-width="1.0" />
<line x1="555.10" y1="152.50" x2="561.50" y2="152.50" stroke="#a8a8a8" stroke-width="1.0" />
<line x1="561.50" y1="152.50" x2="563.80" y2="158.05" stroke="#a8a8a8" stroke-width="1.0" />
<line x1="563.80" y1="158.05" x2="570.20" y2="158.05" stroke="#a8a8a8" stroke-width="1.0" />
<line x1="570.20" y1="158.05" x2="574.30" y2="152.50" stroke="#a8a8a8" stroke-width="1.0" />
<line x1="574.30" y1="152.50" x2="580.70" y2="152.50" stroke="#a8a8a8" stroke-width="1.0" />
<line x1="580.70" y1="152.50" x2="583.00" y2="158.05" stroke="#a8a8a8" stroke-width="1.0" />
<line x1="553.90" y1="131.40" x2="562.20" y2="133.70" stroke="#c04aa0" stroke-width="1.2" />
<line x1="571.10" y1="136.90" x2="562.20" y2="133.70" stroke="#c04aa0" stroke-width="1.2" />
<line x1="559.70" y1="142.70" x2="562.20" y2="133.70" stroke="#c04aa0" stroke-width="1.2" />
<line x1="564.90" y1="124.50" x2="562.20" y2="133.70" stroke="#c04aa0" stroke-width="1.2" />
<circle cx="542.30" cy="108.10" r="2.25" fill="url(#ga)"/>
<circle cx="544.60" cy="113.65" r="2.25" fill="url(#ga)"/>
<circle cx="551.00" cy="113.65" r="2.25" fill="url(#ga)"/>
<circle cx="555.10" cy="108.10" r="2.25" fill="url(#ga)"/>
<circle cx="561.50" cy="108.10" r="2.25" fill="url(#ga)"/>
<circle cx="563.80" cy="113.65" r="2.25" fill="url(#ga)"/>
<circle cx="570.20" cy="113.65" r="2.25" fill="url(#ga)"/>
<circle cx="574.30" cy="108.10" r="2.25" fill="url(#ga)"/>
<circle cx="580.70" cy="108.10" r="2.25" fill="url(#ga)"/>
<circle cx="583.00" cy="113.65" r="2.25" fill="url(#ga)"/>
<circle cx="542.30" cy="119.20" r="2.25" fill="url(#ga)"/>
<circle cx="544.60" cy="124.75" r="2.25" fill="url(#ga)"/>
<circle cx="551.00" cy="124.75" r="2.25" fill="url(#ga)"/>
<circle cx="555.10" cy="119.20" r="2.25" fill="url(#ga)"/>
<circle cx="561.50" cy="119.20" r="2.25" fill="url(#ga)"/>
<circle cx="570.20" cy="124.75" r="2.25" fill="url(#ga)"/>
<circle cx="574.30" cy="119.20" r="2.25" fill="url(#ga)"/>
<circle cx="580.70" cy="119.20" r="2.25" fill="url(#ga)"/>
<circle cx="583.00" cy="124.75" r="2.25" fill="url(#ga)"/>
<circle cx="542.30" cy="130.30" r="2.25" fill="url(#ga)"/>
<circle cx="544.60" cy="135.85" r="2.25" fill="url(#ga)"/>
<circle cx="551.00" cy="135.85" r="2.25" fill="url(#ga)"/>
<circle cx="574.30" cy="130.30" r="2.25" fill="url(#ga)"/>
<circle cx="580.70" cy="130.30" r="2.25" fill="url(#ga)"/>
<circle cx="583.00" cy="135.85" r="2.25" fill="url(#ga)"/>
<circle cx="542.30" cy="141.40" r="2.25" fill="url(#ga)"/>
<circle cx="544.60" cy="146.95" r="2.25" fill="url(#ga)"/>
<circle cx="551.00" cy="146.95" r="2.25" fill="url(#ga)"/>
<circle cx="555.10" cy="141.40" r="2.25" fill="url(#ga)"/>
<circle cx="563.80" cy="146.95" r="2.25" fill="url(#ga)"/>
<circle cx="570.20" cy="146.95" r="2.25" fill="url(#ga)"/>
<circle cx="574.30" cy="141.40" r="2.25" fill="url(#ga)"/>
<circle cx="580.70" cy="141.40" r="2.25" fill="url(#ga)"/>
<circle cx="583.00" cy="146.95" r="2.25" fill="url(#ga)"/>
<circle cx="542.30" cy="152.50" r="2.25" fill="url(#ga)"/>
<circle cx="544.60" cy="158.05" r="2.25" fill="url(#ga)"/>
<circle cx="551.00" cy="158.05" r="2.25" fill="url(#ga)"/>
<circle cx="555.10" cy="152.50" r="2.25" fill="url(#ga)"/>
<circle cx="561.50" cy="152.50" r="2.25" fill="url(#ga)"/>
<circle cx="563.80" cy="158.05" r="2.25" fill="url(#ga)"/>
<circle cx="570.20" cy="158.05" r="2.25" fill="url(#ga)"/>
<circle cx="574.30" cy="152.50" r="2.25" fill="url(#ga)"/>
<circle cx="580.70" cy="152.50" r="2.25" fill="url(#ga)"/>
<circle cx="583.00" cy="158.05" r="2.25" fill="url(#ga)"/>
<circle cx="553.90" cy="131.40" r="2.6" fill="url(#gn)"/>
<circle cx="571.10" cy="136.90" r="2.6" fill="url(#gn)"/>
<circle cx="559.70" cy="142.70" r="2.6" fill="url(#gn)"/>
<circle cx="564.90" cy="124.50" r="2.7" fill="url(#gs)"/>
<circle cx="562.2" cy="133.7" r="2.6" fill="#c0399a"/>
<text x="17.00" y="288.00" font-family='"Liberation Sans", sans-serif' font-size="19" font-weight="bold" text-anchor="start" fill="#161616" transform="translate(17,288) scale(0.88,1) translate(-17,-288)">b</text>
<text x="72.40" y="304.80" font-family='"Liberation Serif", serif' font-size="12.8" font-weight="bold" text-anchor="start" fill="#3a4aa6" >metals</text>
<line x1="25.00" y1="358.80" x2="47.50" y2="358.80" stroke="#2fae4a" stroke-width="2.0" />
<line x1="52.00" y1="358.80" x2="75.00" y2="358.80" stroke="#2fae4a" stroke-width="2.0" />
<line x1="79.50" y1="358.80" x2="101.00" y2="358.80" stroke="#2fae4a" stroke-width="2.0" />
<line x1="104.50" y1="358.80" x2="126.00" y2="358.80" stroke="#2fae4a" stroke-width="2.0" />
<line x1="130.60" y1="358.80" x2="154.00" y2="358.80" stroke="#2fae4a" stroke-width="2.0" />
<text x="19.50" y="378.30" font-family='"Liberation Serif", serif' font-size="12.5" font-weight="bold" text-anchor="start" fill="#161616" >d<tspan font-size="8" dy="3">x²-y²</tspan></text>
<text x="59.50" y="378.30" font-family='"Liberation Serif", serif' font-size="12.5" font-weight="bold" text-anchor="start" fill="#161616" >d<tspan font-size="8" dy="3">z²</tspan></text>
<text x="88.50" y="378.30" font-family='"Liberation Serif", serif' font-size="12.5" font-weight="bold" text-anchor="start" fill="#161616" >d<tspan font-size="8" dy="3">xz</tspan></text>
<text x="110.50" y="378.30" font-family='"Liberation Serif", serif' font-size="12.5" font-weight="bold" text-anchor="start" fill="#161616" >d<tspan font-size="8" dy="3">yz</tspan></text>
<text x="138.50" y="378.30" font-family='"Liberation Serif", serif' font-size="12.5" font-weight="bold" text-anchor="start" fill="#161616" >d<tspan font-size="8" dy="3">xy</tspan></text>
<line x1="155.70" y1="358.40" x2="193.60" y2="293.70" stroke="#ba52b2" stroke-width="2.2" stroke-dasharray="14.62 5.5"/>
<line x1="216.70" y1="293.70" x2="249.10" y2="364.20" stroke="#ba52b2" stroke-width="2.2" stroke-dasharray="15.27 5.5"/>
<line x1="155.70" y1="358.40" x2="171.00" y2="361.00" stroke="#ba52b2" stroke-width="2.0" />
<line x1="155.70" y1="358.40" x2="193.30" y2="416.90" stroke="#ba52b2" stroke-width="2.2" stroke-dasharray="13.26 5.5"/>
<line x1="217.00" y1="417.50" x2="249.10" y2="364.20" stroke="#ba52b2" stroke-width="2.2" stroke-dasharray="17.07 5.5"/>
<line x1="194.10" y1="293.70" x2="216.50" y2="293.70" stroke="#2fae4a" stroke-width="2.0" />
<text x="174.80" y="289.50" font-family='"Liberation Serif", serif' font-size="12.5" font-weight="bold" text-anchor="start" fill="#161616" >d<tspan font-size="8" dy="3">xy</tspan></text>
<line x1="194.40" y1="329.80" x2="216.40" y2="329.80" stroke="#2fae4a" stroke-width="2.0" />
<text x="179.30" y="335.00" font-family='"Liberation Serif", serif' font-size="12.5" font-weight="bold" text-anchor="start" fill="#161616" >d<tspan font-size="8" dy="3">xz</tspan></text>
<line x1="194.40" y1="342.90" x2="216.40" y2="342.90" stroke="#2fae4a" stroke-width="2.0" />
<text x="179.30" y="347.60" font-family='"Liberation Serif", serif' font-size="12.5" font-weight="bold" text-anchor="start" fill="#161616" >d<tspan font-size="8" dy="3">yz</tspan></text>
<line x1="194.40" y1="355.00" x2="216.40" y2="355.00" stroke="#2fae4a" stroke-width="2.0" />
<text x="179.30" y="360.20" font-family='"Liberation Serif", serif' font-size="12.5" font-weight="bold" text-anchor="start" fill="#161616" >d<tspan font-size="8" dy="3">z²</tspan></text>
<line x1="194.40" y1="368.00" x2="216.40" y2="368.00" stroke="#2fae4a" stroke-width="2.0" />
<text x="179.30" y="372.80" font-family='"Liberation Serif", serif' font-size="12.5" font-weight="bold" text-anchor="start" fill="#161616" >d<tspan font-size="8" dy="3">x²-y²</tspan></text>
<text x="252.80" y="299.20" font-family='"Liberation Serif", serif' font-size="12.8" font-weight="bold" text-anchor="start" fill="#3a4aa6" >ligands</text>
<line x1="248.70" y1="340.00" x2="270.60" y2="340.00" stroke="#2fae4a" stroke-width="2.0" />
<line x1="248.70" y1="364.20" x2="270.60" y2="364.20" stroke="#2fae4a" stroke-width="2.0" />
<text x="276.50" y="345.50" font-family='"Liberation Serif", serif' font-size="12" font-weight="bold" text-anchor="start" fill="#161616" >π</text>
<text x="277.00" y="368.50" font-family='"Liberation Serif", serif' font-size="12" font-weight="bold" text-anchor="start" fill="#161616" >σ</text>
<line x1="257.90" y1="370.70" x2="257.90" y2="361.90" stroke="#e8262a" stroke-width="1.5"/>
<path d="M254.70,362.90 L257.90,357.90 L261.10,362.90 Z" fill="#e8262a"/>
<line x1="262.10" y1="358.20" x2="262.10" y2="366.70" stroke="#e8262a" stroke-width="1.5"/>
<path d="M258.90,365.70 L262.10,370.70 L265.30,365.70 Z" fill="#e8262a"/>
<line x1="194.10" y1="418.00" x2="216.10" y2="418.00" stroke="#2fae4a" stroke-width="2.0" />
<line x1="203.40" y1="424.50" x2="203.40" y2="415.70" stroke="#e8262a" stroke-width="1.5"/>
<path d="M200.20,416.70 L203.40,411.70 L206.60,416.70 Z" fill="#e8262a"/>
<line x1="207.60" y1="412.00" x2="207.60" y2="420.50" stroke="#e8262a" stroke-width="1.5"/>
<path d="M204.40,419.50 L207.60,424.50 L210.80,419.50 Z" fill="#e8262a"/>
<text x="170.80" y="420.00" font-family='"Liberation Serif", serif' font-size="12.5" font-weight="bold" text-anchor="start" fill="#161616" >d<tspan font-size="8" dy="3">xy</tspan></text>
<text x="78.30" y="459.20" font-family='"Liberation Serif", serif' font-size="13.3" font-weight="bold" text-anchor="start" fill="#161616" >stage1: σ orbital contribution</text>
<text x="364.30" y="256.60" font-family='"Liberation Serif", serif' font-size="13.1" font-weight="bold" text-anchor="start" fill="#3a4aa6" >metals</text>
<text x="460.60" y="252.80" font-family='"Liberation Serif", serif' font-size="12.9" font-weight="bold" text-anchor="start" fill="#3a4aa6" >ligands</text>
<line x1="420.30" y1="255.20" x2="441.70" y2="255.20" stroke="#2fae4a" stroke-width="2.0" />
<line x1="464.00" y1="264.70" x2="484.70" y2="264.70" stroke="#2fae4a" stroke-width="2.0" />
<text x="494.00" y="273.00" font-family='"Liberation Serif", serif' font-size="12" font-weight="bold" text-anchor="start" fill="#161616" >π</text>
<line x1="441.90" y1="255.30" x2="445.20" y2="256.80" stroke="#ba52b2" stroke-width="2.2" />
<line x1="450.20" y1="258.60" x2="464.00" y2="265.60" stroke="#ba52b2" stroke-width="2.2" />
<line x1="419.00" y1="259.00" x2="396.60" y2="350.70" stroke="#ba52b2" stroke-width="2.2" stroke-dasharray="14.48 5.5"/>
<line x1="464.00" y1="265.50" x2="437.20" y2="371.00" stroke="#ba52b2" stroke-width="2.2" stroke-dasharray="13.56 5.5"/>
<line x1="374.90" y1="292.90" x2="397.20" y2="292.90" stroke="#2fae4a" stroke-width="2.0" />
<line x1="401.60" y1="292.90" x2="416.00" y2="292.90" stroke="#ba52b2" stroke-width="2.0" />
<line x1="418.00" y1="292.90" x2="439.30" y2="292.90" stroke="#2fae4a" stroke-width="2.0" />
<text x="352.60" y="294.80" font-family='"Liberation Serif", serif' font-size="12.5" font-weight="bold" text-anchor="start" fill="#161616" >d<tspan font-size="8" dy="3">xy</tspan></text>
<line x1="373.80" y1="344.20" x2="395.80" y2="344.20" stroke="#2fae4a" stroke-width="2.0" />
<text x="356.70" y="345.80" font-family='"Liberation Serif", serif' font-size="12.5" font-weight="bold" text-anchor="start" fill="#161616" >d<tspan font-size="8" dy="3">xz</tspan></text>
<line x1="373.80" y1="353.80" x2="395.80" y2="353.80" stroke="#2fae4a" stroke-width="2.0" />
<text x="356.70" y="356.30" font-family='"Liberation Serif", serif' font-size="12.5" font-weight="bold" text-anchor="start" fill="#161616" >d<tspan font-size="8" dy="3">yz</tspan></text>
<line x1="373.80" y1="363.50" x2="395.80" y2="363.50" stroke="#2fae4a" stroke-width="2.0" />
<text x="356.70" y="367.00" font-family='"Liberation Serif", serif' font-size="12.5" font-weight="bold" text-anchor="start" fill="#161616" >d<tspan font-size="8" dy="3">z²</tspan></text>
<line x1="373.80" y1="373.40" x2="395.80" y2="373.40" stroke="#2fae4a" stroke-width="2.0" />
<text x="356.70" y="380.00" font-family='"Liberation Serif", serif' font-size="12.5" font-weight="bold" text-anchor="start" fill="#161616" >d<tspan font-size="8" dy="3">x²-y²</tspan></text>
<line x1="415.60" y1="361.80" x2="437.30" y2="361.80" stroke="#2fae4a" stroke-width="1.8" />
<line x1="415.60" y1="366.90" x2="437.30" y2="366.90" stroke="#2fae4a" stroke-width="1.8" />
<line x1="415.60" y1="372.20" x2="437.30" y2="372.20" stroke="#2fae4a" stroke-width="1.8" />
<line x1="415.60" y1="377.40" x2="437.30" y2="377.40" stroke="#2fae4a" stroke-width="1.8" />
<line x1="397.60" y1="360.20" x2="410.80" y2="368.50" stroke="#ba52b2" stroke-width="2.0" />
<line x1="372.60" y1="417.20" x2="394.60" y2="417.20" stroke="#2fae4a" stroke-width="2.0" />
<line x1="380.50" y1="423.70" x2="380.50" y2="414.90" stroke="#e8262a" stroke-width="1.5"/>
<path d="M377.30,415.90 L380.50,410.90 L383.70,415.90 Z" fill="#e8262a"/>
<line x1="384.70" y1="411.20" x2="384.70" y2="419.70" stroke="#e8262a" stroke-width="1.5"/>
<path d="M381.50,418.70 L384.70,423.70 L387.90,418.70 Z" fill="#e8262a"/>
<line x1="399.70" y1="417.20" x2="413.80" y2="417.20" stroke="#ba52b2" stroke-width="2.0" />
<line x1="416.80" y1="417.20" x2="438.80" y2="417.20" stroke="#2fae4a" stroke-width="2.0" />
<line x1="423.80" y1="423.70" x2="423.80" y2="414.90" stroke="#e8262a" stroke-width="1.5"/>
<path d="M420.60,415.90 L423.80,410.90 L427.00,415.90 Z" fill="#e8262a"/>
<line x1="428.00" y1="411.20" x2="428.00" y2="419.70" stroke="#e8262a" stroke-width="1.5"/>
<path d="M424.80,418.70 L428.00,423.70 L431.20,418.70 Z" fill="#e8262a"/>
<text x="354.60" y="418.50" font-family='"Liberation Serif", serif' font-size="12.5" font-weight="bold" text-anchor="start" fill="#161616" >d<tspan font-size="8" dy="3">xy</tspan></text>
<text x="333.50" y="460.50" font-family='"Liberation Serif", serif' font-size="13.3" font-weight="bold" text-anchor="start" fill="#161616" >stage2: π orbital contribution</text>
<text x="551.00" y="257.60" font-family='"Liberation Serif", serif' font-size="13" font-weight="bold" text-anchor="start" fill="#3a4aa6" >FeN<tspan font-size="9" dy="3.5">4</tspan></text>
<text x="650.80" y="257.40" font-family='"Liberation Serif", serif' font-size="13" font-weight="bold" text-anchor="start" fill="#3a4aa6" >FeN<tspan font-size="9" dy="3.5">3</tspan><tspan dy="-3.5">S</tspan><tspan font-size="9" dy="3.5">1</tspan></text>
<line x1="563.00" y1="295.30" x2="584.60" y2="295.30" stroke="#2fae4a" stroke-width="2.0" />
<line x1="570.40" y1="300.60" x2="570.40" y2="292.00" stroke="#e8262a" stroke-width="1.5"/>
<path d="M567.20,293.00 L570.40,288.00 L573.60,293.00 Z" fill="#e8262a"/>
<text x="543.70" y="299.00" font-family='"Liberation Serif", serif' font-size="12.5" font-weight="bold" text-anchor="start" fill="#161616" >d<tspan font-size="8" dy="3">xy</tspan></text>
<line x1="565.50" y1="346.80" x2="588.00" y2="346.80" stroke="#2fae4a" stroke-width="2.0" />
<line x1="567.70" y1="351.80" x2="567.70" y2="343.50" stroke="#e8262a" stroke-width="1.5"/>
<path d="M564.50,344.50 L567.70,339.50 L570.90,344.50 Z" fill="#e8262a"/>
<text x="544.00" y="350.60" font-family='"Liberation Serif", serif' font-size="12.5" font-weight="bold" text-anchor="start" fill="#161616" >d<tspan font-size="8" dy="3">xz</tspan></text>
<line x1="565.50" y1="358.60" x2="588.00" y2="358.60" stroke="#2fae4a" stroke-width="2.0" />
<line x1="571.50" y1="363.60" x2="571.50" y2="355.30" stroke="#e8262a" stroke-width="1.5"/>
<path d="M568.30,356.30 L571.50,351.30 L574.70,356.30 Z" fill="#e8262a"/>
<text x="544.00" y="362.40" font-family='"Liberation Serif", serif' font-size="12.5" font-weight="bold" text-anchor="start" fill="#161616" >d<tspan font-size="8" dy="3">yz</tspan></text>
<line x1="565.50" y1="371.60" x2="588.00" y2="371.60" stroke="#2fae4a" stroke-width="2.0" />
<line x1="576.00" y1="376.60" x2="576.00" y2="368.30" stroke="#e8262a" stroke-width="1.5"/>
<path d="M572.80,369.30 L576.00,364.30 L579.20,369.30 Z" fill="#e8262a"/>
<text x="544.00" y="375.40" font-family='"Liberation Serif", serif' font-size="12.5" font-weight="bold" text-anchor="start" fill="#161616" >d<tspan font-size="8" dy="3">z²</tspan></text>
<line x1="565.50" y1="382.40" x2="588.00" y2="382.40" stroke="#2fae4a" stroke-width="2.0" />
<line x1="581.50" y1="387.40" x2="581.50" y2="379.10" stroke="#e8262a" stroke-width="1.5"/>
<path d="M578.30,380.10 L581.50,375.10 L584.70,380.10 Z" fill="#e8262a"/>
<text x="544.00" y="388.40" font-family='"Liberation Serif", serif' font-size="12.5" font-weight="bold" text-anchor="start" fill="#161616" >d<tspan font-size="8" dy="3">x²-y²</tspan></text>
<line x1="566.60" y1="421.70" x2="589.20" y2="421.70" stroke="#2fae4a" stroke-width="2.0" />
<line x1="575.60" y1="428.20" x2="575.60" y2="419.40" stroke="#e8262a" stroke-width="1.5"/>
<path d="M572.40,420.40 L575.60,415.40 L578.80,420.40 Z" fill="#e8262a"/>
<line x1="579.80" y1="415.70" x2="579.80" y2="424.20" stroke="#e8262a" stroke-width="1.5"/>
<path d="M576.60,423.20 L579.80,428.20 L583.00,423.20 Z" fill="#e8262a"/>
<text x="548.60" y="425.20" font-family='"Liberation Serif", serif' font-size="12.5" font-weight="bold" text-anchor="start" fill="#161616" >d<tspan font-size="8" dy="3">xy</tspan></text>
<line x1="671.20" y1="295.80" x2="693.40" y2="295.80" stroke="#2fae4a" stroke-width="2.0" />
<line x1="678.60" y1="301.00" x2="678.60" y2="292.50" stroke="#e8262a" stroke-width="1.5"/>
<path d="M675.40,293.50 L678.60,288.50 L681.80,293.50 Z" fill="#e8262a"/>
<text x="649.00" y="299.50" font-family='"Liberation Serif", serif' font-size="12.5" font-weight="bold" text-anchor="start" fill="#161616" >d<tspan font-size="8" dy="3">xy</tspan></text>
<line x1="667.40" y1="342.00" x2="690.80" y2="342.00" stroke="#2fae4a" stroke-width="2.0" />
<line x1="670.40" y1="347.00" x2="670.40" y2="338.70" stroke="#e8262a" stroke-width="1.5"/>
<path d="M667.20,339.70 L670.40,334.70 L673.60,339.70 Z" fill="#e8262a"/>
<text x="649.30" y="346.80" font-family='"Liberation Serif", serif' font-size="12.5" font-weight="bold" text-anchor="start" fill="#161616" >d<tspan font-size="8" dy="3">xz</tspan></text>
<line x1="667.40" y1="353.50" x2="690.80" y2="353.50" stroke="#2fae4a" stroke-width="2.0" />
<line x1="674.90" y1="358.50" x2="674.90" y2="350.20" stroke="#e8262a" stroke-width="1.5"/>
<path d="M671.70,351.20 L674.90,346.20 L678.10,351.20 Z" fill="#e8262a"/>
<text x="649.30" y="358.30" font-family='"Liberation Serif", serif' font-size="12.5" font-weight="bold" text-anchor="start" fill="#161616" >d<tspan font-size="8" dy="3">yz</tspan></text>
<line x1="667.40" y1="366.70" x2="690.80" y2="366.70" stroke="#2fae4a" stroke-width="2.0" />
<line x1="677.90" y1="371.70" x2="677.90" y2="363.40" stroke="#e8262a" stroke-width="1.5"/>
<path d="M674.70,364.40 L677.90,359.40 L681.10,364.40 Z" fill="#e8262a"/>
<text x="649.30" y="371.50" font-family='"Liberation Serif", serif' font-size="12.5" font-weight="bold" text-anchor="start" fill="#161616" >d<tspan font-size="8" dy="3">z²</tspan></text>
<line x1="667.40" y1="377.50" x2="690.80" y2="377.50" stroke="#2fae4a" stroke-width="2.0" />
<line x1="674.90" y1="382.50" x2="674.90" y2="374.20" stroke="#e8262a" stroke-width="1.5"/>
<path d="M671.70,375.20 L674.90,370.20 L678.10,375.20 Z" fill="#e8262a"/>
<line x1="682.40" y1="371.00" x2="682.40" y2="379.00" stroke="#e8262a" stroke-width="1.5"/>
<path d="M679.20,378.00 L682.40,383.00 L685.60,378.00 Z" fill="#e8262a"/>
<text x="649.30" y="384.00" font-family='"Liberation Serif", serif' font-size="12.5" font-weight="bold" text-anchor="start" fill="#161616" >d<tspan font-size="8" dy="3">x²-y²</tspan></text>
<line x1="665.90" y1="420.80" x2="687.80" y2="420.80" stroke="#2fae4a" stroke-width="2.0" />
<line x1="672.80" y1="427.30" x2="672.80" y2="418.50" stroke="#e8262a" stroke-width="1.5"/>
<path d="M669.60,419.50 L672.80,414.50 L676.00,419.50 Z" fill="#e8262a"/>
<line x1="677.00" y1="414.80" x2="677.00" y2="423.30" stroke="#e8262a" stroke-width="1.5"/>
<path d="M673.80,422.30 L677.00,427.30 L680.20,422.30 Z" fill="#e8262a"/>
<text x="647.80" y="424.30" font-family='"Liberation Serif", serif' font-size="12.5" font-weight="bold" text-anchor="start" fill="#161616" >d<tspan font-size="8" dy="3">xy</tspan></text>
<text x="534.40" y="462.50" font-family='"Liberation Serif", serif' font-size="13.2" font-weight="bold" text-anchor="start" fill="#161616" >Stage3: filled in the electrons</text>
<g fill="none" stroke="#6a6a6a" stroke-width="0.9">
<ellipse cx="611.4" cy="436.3" rx="9" ry="7.4"/>
<path d="M606,442.5 L604.5,446 L609,443.3"/>
<ellipse cx="621.2" cy="441.2" rx="8.0" ry="6.6" fill="#fdfdfd"/>
<path d="M625.5,446.8 L627.5,449 L626.5,445.5"/>
</g>
<circle cx="608.00" cy="433.00" r="0.9" fill="#6a6a6a" />
<circle cx="614.50" cy="433.00" r="0.9" fill="#6a6a6a" />
<circle cx="618.50" cy="439.50" r="0.9" fill="#6a6a6a" />
<circle cx="623.50" cy="439.50" r="0.9" fill="#6a6a6a" />
<g fill="none" stroke="#555" stroke-width="1.3" stroke-linecap="square">
<path d="M639.5,431.8 L655,431.8 L655,448.3 L639.5,448.3 Z M641.5,436 L653,436 M649.5,433.5 L649.5,446 L647.5,445 M649,437 L643,444"/>
<path d="M659,431.5 L657.5,434.5 M659,432.8 L663.5,432.8 M661,433 L662,435 M666.5,431.5 L665,434.5 M666.5,432.8 L672,432.8 M668.5,433 L669.5,435 M659,437.5 L664,437.5 M661.5,435.5 L661.5,437.5 M660,440 L664,440 L663,447 L661.5,448 M660.5,440 L658,447.5 M665.5,436.5 L672,436.5 M667,436 L666,439 M665.5,441 L672,441 M668.5,438 L668.5,441 L665.5,448 M668.5,442 L672.5,448"/>
<path d="M678.5,432 L674.5,434 M674,436 L681,436 M677.5,433 L677.5,448.5 M677.5,437.5 L674,443 M677.5,438 L680.5,441 M683.5,434 L685,436 M683.5,438 L685,440 M682.5,443 L690,441 M687,431.5 L687,448.5"/>
<path d="M694.5,432 L696,434.5 M699.5,431.5 L700.5,434 M705.5,431.5 L704,434.5 M693,437.5 L693,435.5 L707,435.5 L707,437.5 M696,438.5 L704,438.5 L700,441 M692.5,442.5 L708,442.5 M700,441 L700,448.5 L698,447.5"/>
</g>
</svg>
</body></html>
